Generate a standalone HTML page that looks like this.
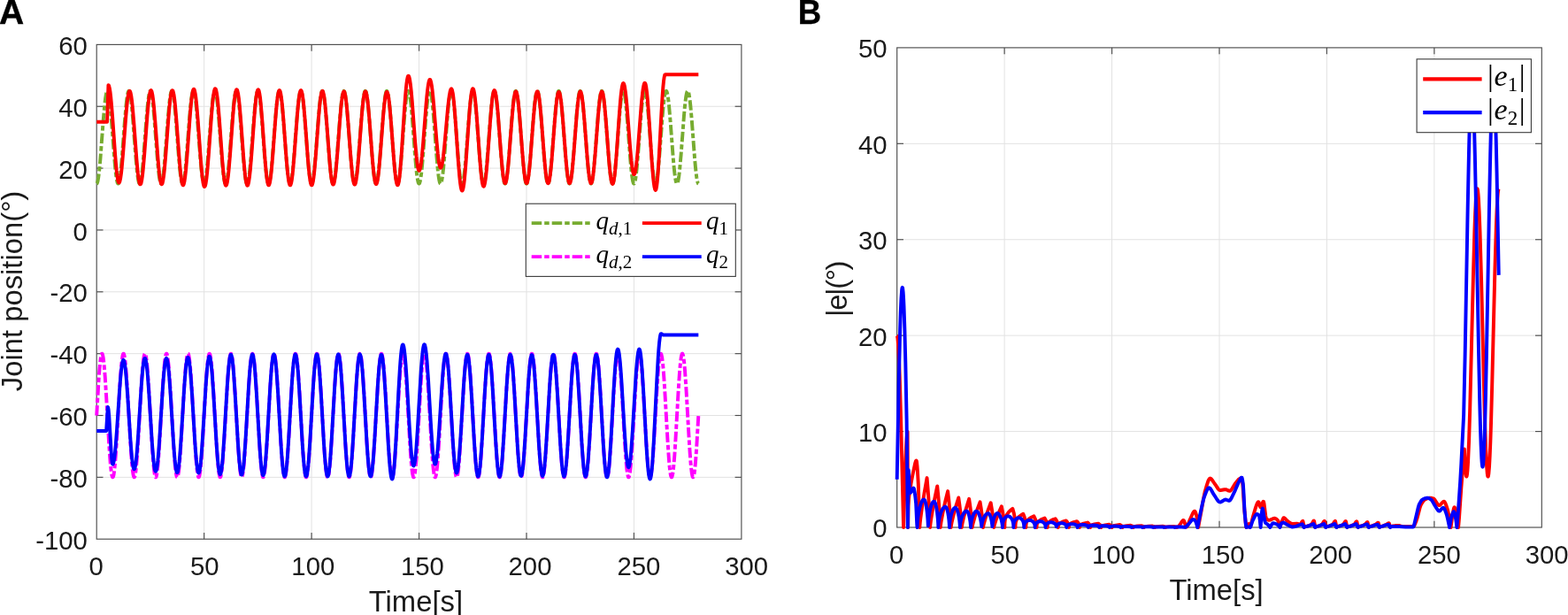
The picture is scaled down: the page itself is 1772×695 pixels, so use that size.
<!DOCTYPE html>
<html lang="en"><head><meta charset="utf-8"><title>Joint position tracking</title>
<style>html,body{margin:0;padding:0;background:#fff;}body{width:1772px;height:695px;overflow:hidden;}svg{display:block;}.tk{font-family:"Liberation Sans",sans-serif;font-size:29.3px;fill:#1a1a1a;}.lb{font-family:"Liberation Sans",sans-serif;font-size:32.8px;fill:#1a1a1a;}.pn{font-family:"Liberation Sans",sans-serif;font-size:39px;font-weight:bold;fill:#000;}.mi{font-family:"Liberation Serif",serif;font-style:italic;fill:#000;}.mr{font-family:"Liberation Serif",serif;font-style:normal;fill:#000;}.cv{fill:none;stroke-linejoin:round;stroke-linecap:butt;}</style></head><body>
<svg width="1772" height="695" viewBox="0 0 1772 695">
<rect x="0" y="0" width="1772" height="695" fill="#ffffff"/>
<g stroke="#e2e2e2" stroke-width="1" fill="none"><line x1="230.65" y1="50.40" x2="230.65" y2="609.20"/><line x1="352.10" y1="50.40" x2="352.10" y2="609.20"/><line x1="473.55" y1="50.40" x2="473.55" y2="609.20"/><line x1="595.00" y1="50.40" x2="595.00" y2="609.20"/><line x1="716.45" y1="50.40" x2="716.45" y2="609.20"/><line x1="109.20" y1="120.25" x2="837.90" y2="120.25"/><line x1="109.20" y1="190.10" x2="837.90" y2="190.10"/><line x1="109.20" y1="259.95" x2="837.90" y2="259.95"/><line x1="109.20" y1="329.80" x2="837.90" y2="329.80"/><line x1="109.20" y1="399.65" x2="837.90" y2="399.65"/><line x1="109.20" y1="469.50" x2="837.90" y2="469.50"/><line x1="109.20" y1="539.35" x2="837.90" y2="539.35"/></g>
<clipPath id="ca"><rect x="109.20" y="50.40" width="728.70" height="558.80"/></clipPath>
<g stroke="#4d4d4d" stroke-width="1.15" fill="none"><line x1="230.65" y1="609.20" x2="230.65" y2="601.90"/><line x1="230.65" y1="50.40" x2="230.65" y2="57.70"/><line x1="352.10" y1="609.20" x2="352.10" y2="601.90"/><line x1="352.10" y1="50.40" x2="352.10" y2="57.70"/><line x1="473.55" y1="609.20" x2="473.55" y2="601.90"/><line x1="473.55" y1="50.40" x2="473.55" y2="57.70"/><line x1="595.00" y1="609.20" x2="595.00" y2="601.90"/><line x1="595.00" y1="50.40" x2="595.00" y2="57.70"/><line x1="716.45" y1="609.20" x2="716.45" y2="601.90"/><line x1="716.45" y1="50.40" x2="716.45" y2="57.70"/><line x1="109.20" y1="120.25" x2="116.50" y2="120.25"/><line x1="837.90" y1="120.25" x2="830.60" y2="120.25"/><line x1="109.20" y1="190.10" x2="116.50" y2="190.10"/><line x1="837.90" y1="190.10" x2="830.60" y2="190.10"/><line x1="109.20" y1="259.95" x2="116.50" y2="259.95"/><line x1="837.90" y1="259.95" x2="830.60" y2="259.95"/><line x1="109.20" y1="329.80" x2="116.50" y2="329.80"/><line x1="837.90" y1="329.80" x2="830.60" y2="329.80"/><line x1="109.20" y1="399.65" x2="116.50" y2="399.65"/><line x1="837.90" y1="399.65" x2="830.60" y2="399.65"/><line x1="109.20" y1="469.50" x2="116.50" y2="469.50"/><line x1="837.90" y1="469.50" x2="830.60" y2="469.50"/><line x1="109.20" y1="539.35" x2="116.50" y2="539.35"/><line x1="837.90" y1="539.35" x2="830.60" y2="539.35"/><rect x="109.20" y="50.40" width="728.70" height="558.80"/></g>
<g class="cv" stroke-width="3.95">
<path d="M109.20,207.56 L109.49,207.41 L109.83,206.87 L110.51,204.58 L111.19,200.76 L111.87,195.54 L112.60,188.57 L113.43,179.25 L116.78,135.28 L118.24,118.84 L119.06,111.66 L119.84,106.71 L120.23,104.96 L120.62,103.72 L121.00,102.99 L121.34,102.79 L121.64,102.94 L121.98,103.48 L122.66,105.77 L123.34,109.59 L124.02,114.81 L124.75,121.78 L125.57,131.10 L128.92,175.07 L130.38,191.51 L131.21,198.69 L131.98,203.64 L132.37,205.39 L132.76,206.63 L133.15,207.36 L133.49,207.56 L133.78,207.41 L134.12,206.87 L134.80,204.58 L135.48,200.76 L136.16,195.54 L136.89,188.57 L137.72,179.25 L141.02,135.89 L142.48,119.31 L143.30,112.03 L144.08,106.97 L144.47,105.15 L144.86,103.84 L145.25,103.05 L145.59,102.79 L145.88,102.89 L146.22,103.38 L146.90,105.56 L147.58,109.27 L148.31,114.81 L149.04,121.78 L149.86,131.10 L153.21,175.07 L154.67,191.51 L155.50,198.69 L156.27,203.64 L156.66,205.39 L157.05,206.63 L157.44,207.36 L157.78,207.56 L158.07,207.41 L158.41,206.87 L159.09,204.58 L159.77,200.76 L160.45,195.54 L161.18,188.57 L162.01,179.25 L165.31,135.89 L166.77,119.31 L167.59,112.03 L168.37,106.97 L168.76,105.15 L169.15,103.84 L169.54,103.05 L169.88,102.79 L170.17,102.89 L170.51,103.38 L171.19,105.56 L171.87,109.27 L172.60,114.81 L173.33,121.78 L174.15,131.10 L177.50,175.07 L178.96,191.51 L179.79,198.69 L180.56,203.64 L180.95,205.39 L181.34,206.63 L181.73,207.36 L182.07,207.56 L182.36,207.41 L182.70,206.87 L183.38,204.58 L184.06,200.76 L184.74,195.54 L185.47,188.57 L186.30,179.25 L189.60,135.89 L191.06,119.31 L191.88,112.03 L192.66,106.97 L193.05,105.15 L193.44,103.84 L193.83,103.05 L194.17,102.79 L194.46,102.89 L194.80,103.38 L195.48,105.56 L196.16,109.27 L196.89,114.81 L197.62,121.78 L198.44,131.10 L201.79,175.07 L203.25,191.51 L204.08,198.69 L204.85,203.64 L205.24,205.39 L205.63,206.63 L206.02,207.36 L206.36,207.56 L206.65,207.41 L206.99,206.87 L207.67,204.58 L208.35,200.76 L209.03,195.54 L209.76,188.57 L210.59,179.25 L213.89,135.89 L215.35,119.31 L216.17,112.03 L216.95,106.97 L217.34,105.15 L217.73,103.84 L218.12,103.05 L218.46,102.79 L218.75,102.89 L219.09,103.38 L219.77,105.56 L220.45,109.27 L221.18,114.81 L221.91,121.78 L222.73,131.10 L226.08,175.07 L227.54,191.51 L228.37,198.69 L229.14,203.64 L229.53,205.39 L229.92,206.63 L230.31,207.36 L230.65,207.56 L230.94,207.41 L231.28,206.87 L231.96,204.58 L232.64,200.76 L233.32,195.54 L234.05,188.57 L234.88,179.25 L238.18,135.89 L239.64,119.31 L240.46,112.03 L241.24,106.97 L241.63,105.15 L242.02,103.84 L242.41,103.05 L242.75,102.79 L243.04,102.89 L243.38,103.38 L244.06,105.56 L244.74,109.27 L245.47,114.81 L246.20,121.78 L247.02,131.10 L250.37,175.07 L251.83,191.51 L252.66,198.69 L253.43,203.64 L253.82,205.39 L254.21,206.63 L254.60,207.36 L254.94,207.56 L255.23,207.41 L255.57,206.87 L256.25,204.58 L256.93,200.76 L257.61,195.54 L258.34,188.57 L259.17,179.25 L262.47,135.89 L263.93,119.31 L264.75,112.03 L265.53,106.97 L265.92,105.15 L266.31,103.84 L266.70,103.05 L267.04,102.79 L267.33,102.89 L267.67,103.38 L268.35,105.56 L269.03,109.27 L269.76,114.81 L270.49,121.78 L271.31,131.10 L274.66,175.07 L276.12,191.51 L276.95,198.69 L277.72,203.64 L278.11,205.39 L278.50,206.63 L278.89,207.36 L279.23,207.56 L279.52,207.41 L279.86,206.87 L280.54,204.58 L281.22,200.76 L281.90,195.54 L282.63,188.57 L283.46,179.25 L286.76,135.89 L288.22,119.31 L289.04,112.03 L289.82,106.97 L290.21,105.15 L290.60,103.84 L290.99,103.05 L291.33,102.79 L291.62,102.89 L291.96,103.38 L292.64,105.56 L293.32,109.27 L294.05,114.81 L294.78,121.78 L295.60,131.10 L298.95,175.07 L300.41,191.51 L301.24,198.69 L302.01,203.64 L302.40,205.39 L302.79,206.63 L303.18,207.36 L303.52,207.56 L303.81,207.41 L304.15,206.87 L304.83,204.58 L305.51,200.76 L306.19,195.54 L306.92,188.57 L307.75,179.25 L311.05,135.89 L312.51,119.31 L313.33,112.03 L314.11,106.97 L314.50,105.15 L314.89,103.84 L315.28,103.05 L315.62,102.79 L315.91,102.89 L316.25,103.38 L316.93,105.56 L317.61,109.27 L318.34,114.81 L319.07,121.78 L319.89,131.10 L323.24,175.07 L324.70,191.51 L325.53,198.69 L326.30,203.64 L326.69,205.39 L327.08,206.63 L327.47,207.36 L327.81,207.56 L328.10,207.41 L328.44,206.87 L329.12,204.58 L329.80,200.76 L330.48,195.54 L331.21,188.57 L332.04,179.25 L335.34,135.89 L336.80,119.31 L337.62,112.03 L338.40,106.97 L338.79,105.15 L339.18,103.84 L339.57,103.05 L339.91,102.79 L340.20,102.89 L340.54,103.38 L341.22,105.56 L341.90,109.27 L342.63,114.81 L343.36,121.78 L344.18,131.10 L347.53,175.07 L348.99,191.51 L349.82,198.69 L350.59,203.64 L350.98,205.39 L351.37,206.63 L351.76,207.36 L352.10,207.56 L352.39,207.41 L352.73,206.87 L353.41,204.58 L354.09,200.76 L354.77,195.54 L355.50,188.57 L356.33,179.25 L359.63,135.89 L361.09,119.31 L361.91,112.03 L362.69,106.97 L363.08,105.15 L363.47,103.84 L363.86,103.05 L364.20,102.79 L364.49,102.89 L364.83,103.38 L365.51,105.56 L366.19,109.27 L366.92,114.81 L367.65,121.78 L368.47,131.10 L371.82,175.07 L373.28,191.51 L374.11,198.69 L374.88,203.64 L375.27,205.39 L375.66,206.63 L376.05,207.36 L376.39,207.56 L376.68,207.41 L377.02,206.87 L377.70,204.58 L378.38,200.76 L379.06,195.54 L379.79,188.57 L380.62,179.25 L383.92,135.89 L385.38,119.31 L386.15,112.41 L386.93,107.23 L387.71,103.98 L388.10,103.12 L388.44,102.80 L388.73,102.85 L389.07,103.29 L389.41,104.12 L389.75,105.35 L390.43,108.95 L391.16,114.39 L391.94,121.78 L392.76,131.10 L396.11,175.07 L397.57,191.51 L398.40,198.69 L399.17,203.64 L399.56,205.39 L399.95,206.63 L400.34,207.36 L400.68,207.56 L400.97,207.41 L401.31,206.87 L401.99,204.58 L402.67,200.76 L403.35,195.54 L404.08,188.57 L404.91,179.25 L408.21,135.89 L409.67,119.31 L410.44,112.41 L411.22,107.23 L412.00,103.98 L412.39,103.12 L412.73,102.80 L413.02,102.85 L413.36,103.29 L413.70,104.12 L414.04,105.35 L414.72,108.95 L415.45,114.39 L416.23,121.78 L417.05,131.10 L420.40,175.07 L421.86,191.51 L422.69,198.69 L423.46,203.64 L423.85,205.39 L424.24,206.63 L424.63,207.36 L424.97,207.56 L425.26,207.41 L425.60,206.87 L426.28,204.58 L426.96,200.76 L427.64,195.54 L428.37,188.57 L429.20,179.25 L432.50,135.89 L433.96,119.31 L434.73,112.41 L435.51,107.23 L436.29,103.98 L436.68,103.12 L437.02,102.80 L437.31,102.85 L437.65,103.29 L437.99,104.12 L438.33,105.35 L439.01,108.95 L439.74,114.39 L440.52,121.78 L441.34,131.10 L444.69,175.07 L446.15,191.51 L446.98,198.69 L447.75,203.64 L448.14,205.39 L448.53,206.63 L448.92,207.36 L449.26,207.56 L449.55,207.41 L449.89,206.87 L450.57,204.58 L451.25,200.76 L451.93,195.54 L452.66,188.57 L453.49,179.25 L456.79,135.89 L458.25,119.31 L459.02,112.41 L459.80,107.23 L460.58,103.98 L460.97,103.12 L461.31,102.80 L461.60,102.85 L461.94,103.29 L462.28,104.12 L462.62,105.35 L463.30,108.95 L464.03,114.39 L464.81,121.78 L465.63,131.10 L468.98,175.07 L470.44,191.51 L471.27,198.69 L472.04,203.64 L472.43,205.39 L472.82,206.63 L473.21,207.36 L473.55,207.56 L473.84,207.41 L474.18,206.87 L474.86,204.58 L475.54,200.76 L476.22,195.54 L476.95,188.57 L477.78,179.25 L481.08,135.89 L482.54,119.31 L483.31,112.41 L484.09,107.23 L484.87,103.98 L485.26,103.12 L485.60,102.80 L485.89,102.85 L486.23,103.29 L486.57,104.12 L486.91,105.35 L487.59,108.95 L488.32,114.39 L489.10,121.78 L489.92,131.10 L493.27,175.07 L494.73,191.51 L495.56,198.69 L496.33,203.64 L496.72,205.39 L497.11,206.63 L497.50,207.36 L497.84,207.56 L498.13,207.41 L498.47,206.87 L499.15,204.58 L499.83,200.76 L500.51,195.54 L501.24,188.57 L502.07,179.25 L505.37,135.89 L506.83,119.31 L507.60,112.41 L508.38,107.23 L509.16,103.98 L509.55,103.12 L509.89,102.80 L510.18,102.85 L510.52,103.29 L510.86,104.12 L511.20,105.35 L511.88,108.95 L512.61,114.39 L513.39,121.78 L514.21,131.10 L517.56,175.07 L519.02,191.51 L519.85,198.69 L520.62,203.64 L521.01,205.39 L521.40,206.63 L521.79,207.36 L522.13,207.56 L522.42,207.41 L522.76,206.87 L523.44,204.58 L524.12,200.76 L524.85,195.12 L525.58,188.06 L526.41,178.66 L529.66,135.89 L531.07,119.80 L531.85,112.79 L532.62,107.50 L533.40,104.12 L533.79,103.20 L534.13,102.82 L534.47,102.85 L534.81,103.29 L535.15,104.12 L535.49,105.35 L536.17,108.95 L536.90,114.39 L537.68,121.78 L538.50,131.10 L541.85,175.07 L543.31,191.51 L544.14,198.69 L544.91,203.64 L545.30,205.39 L545.69,206.63 L546.08,207.36 L546.42,207.56 L546.71,207.41 L547.05,206.87 L547.73,204.58 L548.41,200.76 L549.14,195.12 L549.87,188.06 L550.70,178.66 L553.95,135.89 L555.36,119.80 L556.14,112.79 L556.91,107.50 L557.69,104.12 L558.08,103.20 L558.42,102.82 L558.76,102.85 L559.10,103.29 L559.44,104.12 L559.78,105.35 L560.46,108.95 L561.19,114.39 L561.97,121.78 L562.79,131.10 L566.14,175.07 L567.60,191.51 L568.43,198.69 L569.20,203.64 L569.59,205.39 L569.98,206.63 L570.37,207.36 L570.71,207.56 L571.00,207.41 L571.34,206.87 L572.02,204.58 L572.70,200.76 L573.43,195.12 L574.16,188.06 L574.99,178.66 L578.24,135.89 L579.65,119.80 L580.43,112.79 L581.20,107.50 L581.93,104.27 L582.32,103.29 L582.66,102.85 L583.00,102.82 L583.34,103.20 L583.68,103.98 L584.02,105.15 L584.75,108.95 L585.48,114.39 L586.26,121.78 L587.08,131.10 L590.43,175.07 L591.89,191.51 L592.72,198.69 L593.49,203.64 L593.88,205.39 L594.27,206.63 L594.66,207.36 L595.00,207.56 L595.29,207.41 L595.63,206.87 L596.31,204.58 L596.99,200.76 L597.72,195.12 L598.45,188.06 L599.28,178.66 L602.48,136.50 L603.89,120.28 L604.67,113.18 L605.40,108.06 L606.12,104.60 L606.51,103.48 L606.85,102.94 L607.19,102.79 L607.53,103.05 L607.87,103.72 L608.26,104.96 L608.99,108.65 L609.72,113.98 L610.50,121.28 L611.37,131.10 L614.72,175.07 L616.18,191.51 L617.01,198.69 L617.78,203.64 L618.17,205.39 L618.56,206.63 L618.95,207.36 L619.29,207.56 L619.63,207.36 L619.97,206.75 L620.65,204.35 L621.33,200.43 L622.06,194.69 L623.61,178.07 L626.72,137.12 L628.08,121.28 L628.81,114.39 L629.54,108.95 L630.27,105.15 L630.61,103.98 L630.95,103.20 L631.34,102.80 L631.68,102.89 L632.02,103.38 L632.41,104.43 L633.18,108.06 L633.96,113.58 L634.74,120.78 L635.61,130.52 L639.01,175.07 L640.47,191.51 L641.30,198.69 L642.07,203.64 L642.46,205.39 L642.85,206.63 L643.24,207.36 L643.58,207.56 L643.92,207.36 L644.31,206.63 L644.70,205.39 L645.09,203.64 L645.86,198.69 L646.69,191.51 L648.15,175.07 L651.60,129.94 L652.47,120.28 L653.30,112.79 L654.12,107.23 L654.56,105.15 L654.95,103.84 L655.34,103.05 L655.72,102.79 L656.11,103.05 L656.55,103.98 L657.18,106.47 L657.86,110.59 L658.54,116.10 L659.22,122.81 L660.49,137.74 L663.50,177.48 L665.00,193.81 L665.73,199.76 L666.46,204.12 L667.19,206.75 L667.53,207.36 L667.87,207.56 L668.21,207.36 L668.60,206.63 L668.99,205.39 L669.38,203.64 L670.15,198.69 L670.98,191.51 L672.44,175.07 L675.79,131.10 L676.66,121.28 L677.44,113.98 L678.22,108.35 L678.95,104.78 L679.33,103.60 L679.67,102.99 L680.01,102.79 L680.36,102.99 L680.70,103.60 L681.04,104.60 L681.76,108.06 L682.49,113.18 L683.27,120.28 L684.68,136.50 L687.84,178.07 L689.39,194.69 L690.12,200.43 L690.80,204.35 L691.48,206.75 L691.82,207.36 L692.16,207.56 L692.50,207.36 L692.89,206.63 L693.28,205.39 L693.67,203.64 L694.44,198.69 L695.27,191.51 L696.73,175.07 L700.08,131.10 L700.90,121.78 L701.68,114.39 L702.41,108.95 L703.14,105.15 L703.53,103.84 L703.87,103.12 L704.21,102.80 L704.55,102.89 L704.89,103.38 L705.28,104.43 L706.01,107.77 L706.73,112.79 L707.51,119.80 L708.92,135.89 L712.17,178.66 L713.00,188.06 L713.73,195.12 L714.46,200.76 L715.14,204.58 L715.82,206.87 L716.16,207.41 L716.45,207.56 L716.79,207.36 L717.18,206.63 L717.57,205.39 L717.96,203.64 L718.73,198.69 L719.56,191.51 L721.02,175.07 L724.37,131.10 L725.19,121.78 L725.97,114.39 L726.70,108.95 L727.38,105.35 L727.72,104.12 L728.06,103.29 L728.40,102.85 L728.74,102.82 L729.08,103.20 L729.47,104.12 L730.25,107.50 L731.02,112.79 L731.80,119.80 L733.21,135.89 L736.46,178.66 L737.29,188.06 L738.02,195.12 L738.75,200.76 L739.43,204.58 L740.11,206.87 L740.45,207.41 L740.74,207.56 L741.08,207.36 L741.47,206.63 L741.86,205.39 L742.25,203.64 L743.02,198.69 L743.85,191.51 L745.31,175.07 L748.66,131.10 L749.48,121.78 L750.26,114.39 L750.99,108.95 L751.67,105.35 L752.01,104.12 L752.35,103.29 L752.69,102.85 L752.98,102.80 L753.32,103.12 L753.71,103.98 L754.49,107.23 L755.27,112.41 L756.04,119.31 L757.50,135.89 L760.80,179.25 L761.63,188.57 L762.36,195.54 L763.04,200.76 L763.72,204.58 L764.40,206.87 L764.74,207.41 L765.03,207.56 L765.37,207.36 L765.76,206.63 L766.15,205.39 L766.54,203.64 L767.31,198.69 L768.14,191.51 L769.60,175.07 L772.95,131.10 L773.77,121.78 L774.50,114.81 L775.23,109.27 L775.91,105.56 L776.59,103.38 L776.93,102.89 L777.22,102.79 L777.56,103.05 L777.95,103.84 L778.34,105.15 L778.73,106.97 L779.51,112.03 L780.33,119.31 L781.79,135.89 L785.09,179.25 L785.92,188.57 L786.65,195.54 L787.33,200.76 L788.01,204.58 L788.69,206.87 L789.03,207.41 L789.32,207.56" stroke="#77ac30" stroke-dasharray="11.5 3 5.5 3"/>
<path d="M109.20,469.50 L111.39,432.07 L112.21,420.42 L112.99,411.48 L113.77,404.88 L114.16,402.55 L114.54,400.89 L114.93,399.92 L115.27,399.65 L115.47,399.74 L115.66,400.00 L116.05,401.06 L116.68,404.24 L117.36,409.60 L118.04,416.82 L118.72,425.66 L120.03,446.25 L123.09,500.03 L123.92,512.66 L124.70,522.76 L125.52,531.13 L126.35,536.70 L126.74,538.27 L127.13,539.15 L127.32,539.33 L127.51,539.33 L127.90,538.80 L128.24,537.76 L128.58,536.20 L129.26,531.54 L129.99,524.42 L130.72,515.36 L132.08,494.40 L135.29,438.18 L136.11,425.66 L136.89,415.68 L137.67,407.87 L138.45,402.55 L138.83,400.89 L139.17,400.00 L139.37,399.74 L139.56,399.65 L139.90,399.92 L140.24,400.73 L140.58,402.07 L141.31,406.68 L142.04,413.51 L142.82,422.98 L144.23,444.60 L147.43,500.82 L148.26,513.34 L149.04,523.32 L149.81,531.13 L150.54,536.20 L150.93,537.94 L151.27,538.90 L151.66,539.34 L152.00,539.15 L152.34,538.42 L152.73,536.93 L153.46,532.32 L154.19,525.49 L154.96,516.02 L156.37,494.40 L159.58,438.18 L160.40,425.66 L161.18,415.68 L161.96,407.87 L162.69,402.80 L163.08,401.06 L163.42,400.10 L163.76,399.67 L163.90,399.66 L164.10,399.79 L164.44,400.44 L164.82,401.84 L165.55,406.30 L166.28,412.99 L167.06,422.33 L168.47,443.79 L171.72,500.82 L172.55,513.34 L173.33,523.32 L174.05,530.71 L174.78,535.93 L175.17,537.76 L175.51,538.80 L175.85,539.30 L176.00,539.35 L176.19,539.26 L176.53,538.68 L176.92,537.37 L177.65,533.07 L178.43,526.01 L179.20,516.67 L180.61,495.21 L183.87,438.18 L184.69,425.66 L185.47,415.68 L186.20,408.29 L186.93,403.07 L187.27,401.43 L187.61,400.32 L187.95,399.74 L188.14,399.65 L188.29,399.70 L188.63,400.20 L189.02,401.43 L189.79,405.93 L190.57,412.99 L191.35,422.33 L192.76,443.79 L196.01,500.82 L196.84,513.34 L197.62,523.32 L198.34,530.71 L199.07,535.93 L199.41,537.57 L199.75,538.68 L200.09,539.26 L200.29,539.35 L200.43,539.30 L200.77,538.80 L201.16,537.57 L201.94,533.07 L202.72,526.01 L203.49,516.67 L204.90,495.21 L208.16,438.18 L208.98,425.66 L209.76,415.68 L210.49,408.29 L211.22,403.07 L211.56,401.43 L211.90,400.32 L212.24,399.74 L212.43,399.65 L212.58,399.70 L212.92,400.20 L213.31,401.43 L214.08,405.93 L214.86,412.99 L215.64,422.33 L217.05,443.79 L220.30,500.82 L221.13,513.34 L221.91,523.32 L222.63,530.71 L223.31,535.65 L223.99,538.56 L224.33,539.21 L224.53,539.34 L224.67,539.33 L225.01,538.90 L225.40,537.76 L226.18,533.43 L226.96,526.52 L227.74,517.32 L229.19,495.21 L232.50,437.40 L233.32,424.98 L234.05,415.68 L234.78,408.29 L235.46,403.35 L236.14,400.44 L236.48,399.79 L236.67,399.66 L236.82,399.67 L237.16,400.10 L237.55,401.24 L238.33,405.57 L239.10,412.48 L239.88,421.68 L241.34,443.79 L244.64,501.60 L245.47,514.02 L246.20,523.32 L246.92,530.71 L247.60,535.65 L248.28,538.56 L248.62,539.21 L248.82,539.34 L248.96,539.33 L249.30,538.90 L249.69,537.76 L250.47,533.43 L251.25,526.52 L252.03,517.32 L253.48,495.21 L256.79,437.40 L257.61,424.98 L258.34,415.68 L259.07,408.29 L259.75,403.35 L260.43,400.44 L260.77,399.79 L260.96,399.66 L261.11,399.67 L261.45,400.10 L261.84,401.24 L262.62,405.57 L263.39,412.48 L264.17,421.68 L265.63,443.79 L268.93,501.60 L269.76,514.02 L270.49,523.32 L271.21,530.71 L271.89,535.65 L272.57,538.56 L272.91,539.21 L273.11,539.34 L273.25,539.33 L273.59,538.90 L273.98,537.76 L274.76,533.43 L275.54,526.52 L276.32,517.32 L277.77,495.21 L281.08,437.40 L281.90,424.98 L282.63,415.68 L283.36,408.29 L284.04,403.35 L284.72,400.44 L285.06,399.79 L285.25,399.66 L285.40,399.67 L285.74,400.10 L286.13,401.24 L286.91,405.57 L287.68,412.48 L288.46,421.68 L289.92,443.79 L293.22,501.60 L294.05,514.02 L294.78,523.32 L295.50,530.71 L296.18,535.65 L296.86,538.56 L297.20,539.21 L297.40,539.34 L297.54,539.33 L297.88,538.90 L298.27,537.76 L299.05,533.43 L299.83,526.52 L300.61,517.32 L302.06,495.21 L305.37,437.40 L306.19,424.98 L306.92,415.68 L307.65,408.29 L308.33,403.35 L309.01,400.44 L309.35,399.79 L309.64,399.66 L309.98,400.00 L310.37,401.06 L310.76,402.80 L311.15,405.22 L311.92,411.98 L312.75,421.68 L314.21,443.79 L317.51,501.60 L318.34,514.02 L319.07,523.32 L319.79,530.71 L320.47,535.65 L321.15,538.56 L321.49,539.21 L321.79,539.34 L322.13,539.00 L322.51,537.94 L322.90,536.20 L323.29,533.78 L324.07,527.02 L324.90,517.32 L326.35,495.21 L329.66,437.40 L330.48,424.98 L331.21,415.68 L331.94,408.29 L332.62,403.35 L333.30,400.44 L333.64,399.79 L333.93,399.66 L334.27,400.00 L334.66,401.06 L335.05,402.80 L335.44,405.22 L336.21,411.98 L337.04,421.68 L338.50,443.79 L341.80,501.60 L342.63,514.02 L343.36,523.32 L344.08,530.71 L344.76,535.65 L345.44,538.56 L345.78,539.21 L346.08,539.34 L346.42,539.00 L346.80,537.94 L347.19,536.20 L347.58,533.78 L348.36,527.02 L349.19,517.32 L350.64,495.21 L353.95,437.40 L354.77,424.98 L355.50,415.68 L356.23,408.29 L356.91,403.35 L357.59,400.44 L357.93,399.79 L358.22,399.66 L358.56,400.00 L358.95,401.06 L359.34,402.80 L359.73,405.22 L360.50,411.98 L361.33,421.68 L362.79,443.79 L366.09,501.60 L366.92,514.02 L367.65,523.32 L368.37,530.71 L369.05,535.65 L369.73,538.56 L370.07,539.21 L370.37,539.34 L370.71,539.00 L371.09,537.94 L371.48,536.20 L371.87,533.78 L372.65,527.02 L373.48,517.32 L374.93,495.21 L378.24,437.40 L379.06,424.98 L379.79,415.68 L380.52,408.29 L381.20,403.35 L381.88,400.44 L382.22,399.79 L382.51,399.66 L382.85,400.00 L383.24,401.06 L383.63,402.80 L384.02,405.22 L384.79,411.98 L385.62,421.68 L387.08,443.79 L390.38,501.60 L391.21,514.02 L391.94,523.32 L392.66,530.71 L393.34,535.65 L394.02,538.56 L394.36,539.21 L394.66,539.34 L395.00,539.00 L395.38,537.94 L395.77,536.20 L396.16,533.78 L396.94,527.02 L397.77,517.32 L399.22,495.21 L402.53,437.40 L403.35,424.98 L404.08,415.68 L404.81,408.29 L405.49,403.35 L406.17,400.44 L406.51,399.79 L406.80,399.66 L407.14,400.00 L407.53,401.06 L407.92,402.80 L408.31,405.22 L409.08,411.98 L409.91,421.68 L411.37,443.79 L414.67,501.60 L415.50,514.02 L416.23,523.32 L416.95,530.71 L417.63,535.65 L418.31,538.56 L418.65,539.21 L418.95,539.34 L419.29,539.00 L419.67,537.94 L420.06,536.20 L420.45,533.78 L421.23,527.02 L422.06,517.32 L423.51,495.21 L426.82,437.40 L427.64,424.98 L428.37,415.68 L429.10,408.29 L429.78,403.35 L430.46,400.44 L430.80,399.79 L431.09,399.66 L431.43,400.00 L431.82,401.06 L432.21,402.80 L432.60,405.22 L433.37,411.98 L434.20,421.68 L435.66,443.79 L438.96,501.60 L439.79,514.02 L440.52,523.32 L441.24,530.71 L441.92,535.65 L442.60,538.56 L442.94,539.21 L443.24,539.34 L443.58,539.00 L443.96,537.94 L444.35,536.20 L444.74,533.78 L445.52,527.02 L446.35,517.32 L447.80,495.21 L451.11,437.40 L451.93,424.98 L452.66,415.68 L453.39,408.29 L454.07,403.35 L454.75,400.44 L455.09,399.79 L455.38,399.66 L455.72,400.00 L456.11,401.06 L456.50,402.80 L456.89,405.22 L457.66,411.98 L458.49,421.68 L459.95,443.79 L463.25,501.60 L464.08,514.02 L464.81,523.32 L465.53,530.71 L466.21,535.65 L466.89,538.56 L467.23,539.21 L467.53,539.34 L467.87,539.00 L468.25,537.94 L468.64,536.20 L469.03,533.78 L469.81,527.02 L470.64,517.32 L472.09,495.21 L475.40,437.40 L476.22,424.98 L476.95,415.68 L477.68,408.29 L478.36,403.35 L479.04,400.44 L479.38,399.79 L479.67,399.66 L480.01,400.00 L480.40,401.06 L480.79,402.80 L481.18,405.22 L481.95,411.98 L482.78,421.68 L484.24,443.79 L487.54,501.60 L488.37,514.02 L489.10,523.32 L489.82,530.71 L490.50,535.65 L491.18,538.56 L491.52,539.21 L491.82,539.34 L492.16,539.00 L492.54,537.94 L492.93,536.20 L493.32,533.78 L494.10,527.02 L494.93,517.32 L496.38,495.21 L499.69,437.40 L500.51,424.98 L501.24,415.68 L501.97,408.29 L502.65,403.35 L503.33,400.44 L503.67,399.79 L503.96,399.66 L504.30,400.00 L504.69,401.06 L505.08,402.80 L505.47,405.22 L506.24,411.98 L507.07,421.68 L508.53,443.79 L511.83,501.60 L512.66,514.02 L513.39,523.32 L514.11,530.71 L514.79,535.65 L515.47,538.56 L515.81,539.21 L516.11,539.34 L516.45,539.00 L516.83,537.94 L517.22,536.20 L517.61,533.78 L518.39,527.02 L519.22,517.32 L520.67,495.21 L523.98,437.40 L524.80,424.98 L525.53,415.68 L526.26,408.29 L526.94,403.35 L527.62,400.44 L527.96,399.79 L528.25,399.66 L528.59,400.00 L528.98,401.06 L529.37,402.80 L529.76,405.22 L530.53,411.98 L531.36,421.68 L532.82,443.79 L536.12,501.60 L536.95,514.02 L537.68,523.32 L538.40,530.71 L539.08,535.65 L539.76,538.56 L540.10,539.21 L540.40,539.34 L540.74,539.00 L541.12,537.94 L541.51,536.20 L541.90,533.78 L542.68,527.02 L543.51,517.32 L544.96,495.21 L548.27,437.40 L549.09,424.98 L549.82,415.68 L550.55,408.29 L551.23,403.35 L551.91,400.44 L552.25,399.79 L552.54,399.66 L552.88,400.00 L553.27,401.06 L553.66,402.80 L554.05,405.22 L554.82,411.98 L555.65,421.68 L557.11,443.79 L560.41,501.60 L561.24,514.02 L561.97,523.32 L562.69,530.71 L563.37,535.65 L564.05,538.56 L564.39,539.21 L564.69,539.34 L565.03,539.00 L565.41,537.94 L565.80,536.20 L566.19,533.78 L566.97,527.02 L567.80,517.32 L569.25,495.21 L572.56,437.40 L573.38,424.98 L574.11,415.68 L574.84,408.29 L575.52,403.35 L576.20,400.44 L576.54,399.79 L576.83,399.66 L577.17,400.00 L577.56,401.06 L577.95,402.80 L578.34,405.22 L579.11,411.98 L579.94,421.68 L581.40,443.79 L584.70,501.60 L585.53,514.02 L586.26,523.32 L586.98,530.71 L587.66,535.65 L588.34,538.56 L588.68,539.21 L588.98,539.34 L589.32,539.00 L589.70,537.94 L590.09,536.20 L590.48,533.78 L591.26,527.02 L592.09,517.32 L593.54,495.21 L596.85,437.40 L597.67,424.98 L598.40,415.68 L599.13,408.29 L599.81,403.35 L600.49,400.44 L600.83,399.79 L601.12,399.66 L601.46,400.00 L601.85,401.06 L602.24,402.80 L602.63,405.22 L603.40,411.98 L604.23,421.68 L605.69,443.79 L608.99,501.60 L609.82,514.02 L610.55,523.32 L611.27,530.71 L611.95,535.65 L612.63,538.56 L612.97,539.21 L613.27,539.34 L613.61,539.00 L613.99,537.94 L614.38,536.20 L614.77,533.78 L615.55,527.02 L616.38,517.32 L617.83,495.21 L621.14,437.40 L621.96,424.98 L622.69,415.68 L623.42,408.29 L624.10,403.35 L624.78,400.44 L625.12,399.79 L625.41,399.66 L625.75,400.00 L626.14,401.06 L626.53,402.80 L626.92,405.22 L627.69,411.98 L628.52,421.68 L629.98,443.79 L633.28,501.60 L634.11,514.02 L634.84,523.32 L635.56,530.71 L636.24,535.65 L636.92,538.56 L637.26,539.21 L637.56,539.34 L637.90,539.00 L638.28,537.94 L638.67,536.20 L639.06,533.78 L639.84,527.02 L640.67,517.32 L642.12,495.21 L645.43,437.40 L646.25,424.98 L646.98,415.68 L647.71,408.29 L648.39,403.35 L649.07,400.44 L649.41,399.79 L649.70,399.66 L650.04,400.00 L650.43,401.06 L650.82,402.80 L651.21,405.22 L651.98,411.98 L652.81,421.68 L654.27,443.79 L657.57,501.60 L658.40,514.02 L659.13,523.32 L659.85,530.71 L660.53,535.65 L661.21,538.56 L661.55,539.21 L661.85,539.34 L662.19,539.00 L662.57,537.94 L662.96,536.20 L663.35,533.78 L664.13,527.02 L664.96,517.32 L666.41,495.21 L669.72,437.40 L670.54,424.98 L671.27,415.68 L672.00,408.29 L672.68,403.35 L673.36,400.44 L673.70,399.79 L673.99,399.66 L674.33,400.00 L674.72,401.06 L675.11,402.80 L675.50,405.22 L676.27,411.98 L677.10,421.68 L678.56,443.79 L681.86,501.60 L682.69,514.02 L683.42,523.32 L684.14,530.71 L684.82,535.65 L685.50,538.56 L685.84,539.21 L686.14,539.34 L686.48,539.00 L686.86,537.94 L687.25,536.20 L687.64,533.78 L688.42,527.02 L689.25,517.32 L690.70,495.21 L694.01,437.40 L694.83,424.98 L695.56,415.68 L696.29,408.29 L696.97,403.35 L697.65,400.44 L697.99,399.79 L698.28,399.66 L698.62,400.00 L699.01,401.06 L699.40,402.80 L699.79,405.22 L700.56,411.98 L701.39,421.68 L702.85,443.79 L706.15,501.60 L706.98,514.02 L707.71,523.32 L708.43,530.71 L709.11,535.65 L709.79,538.56 L710.13,539.21 L710.43,539.34 L710.77,539.00 L711.15,537.94 L711.54,536.20 L711.93,533.78 L712.71,527.02 L713.54,517.32 L714.99,495.21 L718.30,437.40 L719.12,424.98 L719.85,415.68 L720.53,408.72 L721.21,403.63 L721.89,400.58 L722.23,399.85 L722.52,399.65 L722.81,399.85 L723.15,400.58 L723.83,403.63 L724.51,408.72 L725.19,415.68 L725.92,424.98 L726.75,437.40 L730.10,496.03 L731.56,517.95 L732.38,527.52 L733.16,534.12 L733.55,536.45 L733.94,538.11 L734.33,539.08 L734.67,539.35 L734.96,539.15 L735.30,538.42 L735.98,535.37 L736.66,530.28 L737.34,523.32 L738.07,514.02 L738.89,501.60 L742.25,442.97 L743.70,421.05 L744.53,411.48 L745.31,404.88 L745.70,402.55 L746.08,400.89 L746.47,399.92 L746.81,399.65 L747.10,399.85 L747.44,400.58 L748.12,403.63 L748.80,408.72 L749.48,415.68 L750.21,424.98 L751.04,437.40 L754.39,496.03 L755.85,517.95 L756.67,527.52 L757.45,534.12 L757.84,536.45 L758.23,538.11 L758.62,539.08 L758.96,539.35 L759.25,539.15 L759.59,538.42 L760.27,535.37 L760.95,530.28 L761.63,523.32 L762.36,514.02 L763.18,501.60 L766.54,442.97 L767.99,421.05 L768.82,411.48 L769.60,404.88 L769.99,402.55 L770.37,400.89 L770.76,399.92 L771.10,399.65 L771.44,399.92 L771.78,400.73 L772.12,402.07 L772.51,404.24 L773.24,410.06 L773.97,417.98 L775.47,439.76 L778.49,492.75 L779.75,512.66 L780.43,521.60 L781.11,528.94 L781.79,534.44 L782.42,537.76 L782.81,538.90 L783.20,539.34 L783.54,539.15 L783.93,538.27 L784.32,536.70 L784.70,534.44 L785.48,528.00 L786.26,519.20 L787.13,506.93 L789.32,469.50" stroke="#ff00ff" stroke-dasharray="11.5 3 5.5 3"/>
<path d="M109.20,137.71 L121.10,137.71 L122.46,96.15 L122.80,96.37 L123.19,97.16 L123.82,99.62 L124.50,103.84 L125.18,109.56 L125.86,116.59 L127.17,133.03 L130.19,175.29 L131.01,185.38 L131.74,192.99 L132.52,199.44 L133.30,203.90 L133.68,205.33 L134.02,206.13 L134.36,206.49 L134.56,206.50 L134.75,206.38 L135.09,205.85 L135.43,204.91 L136.16,201.59 L136.89,196.57 L137.67,189.55 L139.08,173.43 L142.33,130.76 L143.16,121.46 L143.93,114.12 L144.71,108.43 L145.44,104.82 L145.83,103.62 L146.17,103.00 L146.56,102.79 L146.90,103.05 L147.24,103.72 L147.58,104.80 L148.31,108.44 L149.04,113.77 L149.76,120.61 L151.12,136.53 L154.33,179.34 L155.16,188.87 L155.89,196.02 L156.61,201.72 L157.34,205.76 L157.73,207.18 L158.07,207.99 L158.41,208.39 L158.75,208.38 L159.09,207.95 L159.48,206.95 L160.21,203.67 L160.99,198.26 L161.76,191.10 L163.17,174.63 L166.43,130.97 L167.25,121.44 L168.03,113.88 L168.76,108.33 L169.49,104.46 L169.88,103.13 L170.22,102.41 L170.56,102.10 L170.90,102.21 L171.24,102.73 L171.63,103.83 L172.35,107.28 L173.08,112.46 L173.86,119.65 L175.27,136.14 L178.48,179.08 L179.30,188.63 L180.03,195.80 L180.76,201.51 L181.49,205.56 L181.83,206.84 L182.17,207.72 L182.51,208.18 L182.85,208.23 L183.19,207.87 L183.58,206.95 L184.30,203.82 L185.08,198.56 L185.86,191.55 L187.32,174.67 L190.57,131.15 L191.40,121.62 L192.17,114.05 L192.90,108.47 L193.63,104.55 L193.97,103.34 L194.31,102.53 L194.65,102.13 L194.99,102.15 L195.33,102.58 L195.72,103.59 L196.45,106.88 L197.23,112.31 L198.00,119.51 L199.41,136.05 L202.67,179.97 L203.49,189.59 L204.22,196.80 L204.95,202.54 L205.63,206.39 L206.31,208.67 L206.65,209.19 L206.99,209.30 L207.33,208.98 L207.72,208.11 L208.50,204.75 L209.27,199.38 L210.05,192.21 L211.51,174.97 L214.76,130.50 L215.59,120.75 L216.37,113.00 L217.10,107.28 L217.82,103.25 L218.16,102.00 L218.50,101.16 L218.85,100.74 L219.19,100.75 L219.53,101.18 L219.91,102.19 L220.64,105.55 L221.42,111.10 L222.20,118.46 L223.61,135.43 L226.86,180.60 L227.69,190.53 L228.42,197.98 L229.14,203.93 L229.82,207.94 L230.50,210.34 L230.84,210.91 L231.18,211.05 L231.52,210.76 L231.91,209.90 L232.30,208.49 L232.69,206.55 L233.47,201.14 L234.24,193.88 L235.70,176.38 L239.01,130.38 L239.83,120.46 L240.61,112.59 L241.34,106.79 L242.02,102.94 L242.36,101.62 L242.70,100.72 L243.04,100.25 L243.38,100.20 L243.72,100.58 L244.11,101.54 L244.88,105.05 L245.66,110.58 L246.44,117.91 L247.85,134.75 L251.10,179.53 L251.93,189.36 L252.71,197.18 L253.43,202.96 L254.11,206.82 L254.79,209.06 L255.13,209.56 L255.43,209.65 L255.77,209.36 L256.15,208.52 L256.54,207.14 L256.93,205.24 L257.71,199.94 L258.49,192.85 L259.94,175.74 L263.25,130.78 L264.07,121.09 L264.85,113.39 L265.58,107.71 L266.26,103.94 L266.60,102.65 L266.94,101.76 L267.28,101.29 L267.62,101.25 L267.96,101.62 L268.35,102.56 L269.13,106.02 L269.90,111.48 L270.68,118.72 L272.09,135.38 L275.34,179.71 L276.17,189.45 L276.95,197.21 L277.68,202.95 L278.36,206.79 L279.04,209.05 L279.38,209.55 L279.67,209.65 L280.01,209.38 L280.40,208.55 L280.78,207.19 L281.17,205.31 L281.95,200.04 L282.78,192.49 L284.23,175.29 L287.49,130.97 L288.31,121.26 L289.09,113.53 L289.82,107.82 L290.50,104.01 L291.18,101.80 L291.52,101.31 L291.86,101.24 L292.20,101.60 L292.59,102.55 L293.32,105.81 L294.10,111.29 L294.87,118.62 L296.28,135.57 L299.44,179.30 L300.27,189.21 L300.99,196.63 L301.67,202.17 L302.35,206.21 L303.03,208.62 L303.37,209.17 L303.67,209.31 L304.01,209.07 L304.39,208.30 L304.78,206.99 L305.17,205.16 L305.95,200.04 L306.77,192.64 L308.23,175.75 L311.54,131.36 L312.36,121.79 L313.14,114.18 L313.87,108.56 L314.55,104.82 L314.89,103.53 L315.23,102.65 L315.57,102.17 L315.86,102.10 L316.20,102.39 L316.59,103.24 L317.37,106.50 L318.14,111.74 L318.92,118.76 L320.38,135.65 L323.68,180.04 L324.51,189.61 L325.24,196.79 L325.96,202.51 L326.64,206.36 L327.32,208.65 L327.66,209.18 L327.96,209.31 L328.30,209.07 L328.68,208.30 L329.07,206.99 L329.46,205.16 L330.24,200.04 L331.06,192.64 L332.52,175.75 L335.83,131.36 L336.65,121.79 L337.43,114.18 L338.16,108.56 L338.84,104.82 L339.18,103.53 L339.52,102.65 L339.86,102.17 L340.15,102.10 L340.49,102.39 L340.88,103.24 L341.66,106.50 L342.43,111.74 L343.21,118.76 L344.67,135.65 L347.97,180.04 L348.80,189.61 L349.53,196.79 L350.25,202.51 L350.93,206.36 L351.61,208.65 L351.95,209.18 L352.25,209.31 L352.59,209.07 L352.97,208.30 L353.36,207.00 L353.75,205.19 L354.53,200.10 L355.35,192.75 L356.81,175.97 L360.12,131.87 L360.94,122.36 L361.72,114.80 L362.45,109.22 L363.13,105.50 L363.47,104.22 L363.81,103.34 L364.15,102.87 L364.44,102.80 L364.78,103.09 L365.17,103.92 L365.95,107.14 L366.72,112.31 L367.50,119.24 L368.96,135.91 L372.26,179.72 L373.09,189.17 L373.82,196.26 L374.54,201.90 L375.22,205.70 L375.90,207.96 L376.24,208.48 L376.54,208.61 L376.88,208.38 L377.26,207.61 L377.65,206.33 L378.04,204.54 L378.82,199.51 L379.64,192.24 L381.10,175.65 L384.41,132.06 L385.23,122.66 L386.01,115.18 L386.74,109.67 L387.42,105.99 L387.76,104.73 L388.10,103.86 L388.44,103.40 L388.73,103.32 L389.07,103.61 L389.46,104.44 L390.24,107.64 L391.01,112.79 L391.79,119.68 L393.25,136.27 L396.55,179.86 L397.38,189.27 L398.11,196.32 L398.83,201.94 L399.51,205.72 L400.19,207.96 L400.53,208.48 L400.83,208.61 L401.17,208.38 L401.55,207.61 L401.94,206.33 L402.33,204.54 L403.11,199.51 L403.93,192.24 L405.39,175.65 L408.70,132.06 L409.52,122.66 L410.30,115.18 L411.03,109.67 L411.71,105.99 L412.05,104.73 L412.39,103.86 L412.73,103.40 L413.02,103.32 L413.36,103.61 L413.75,104.43 L414.53,107.62 L415.30,112.74 L416.08,119.60 L417.54,136.11 L420.84,179.48 L421.67,188.84 L422.40,195.85 L423.12,201.45 L423.80,205.21 L424.48,207.44 L424.82,207.96 L425.12,208.09 L425.46,207.86 L425.84,207.10 L426.23,205.83 L426.62,204.06 L427.40,199.07 L428.22,191.88 L429.68,175.45 L432.99,132.30 L433.81,122.99 L434.59,115.59 L435.32,110.13 L436.00,106.49 L436.34,105.24 L436.68,104.38 L437.02,103.92 L437.31,103.84 L437.65,104.14 L438.04,104.96 L438.82,108.17 L439.59,113.33 L440.37,120.23 L441.83,136.85 L445.13,180.51 L445.96,189.93 L446.69,196.99 L447.41,202.63 L448.09,206.41 L448.77,208.66 L449.11,209.18 L449.41,209.31 L449.75,209.03 L450.09,208.29 L450.81,205.11 L451.54,199.89 L452.27,192.82 L453.78,173.46 L456.74,127.28 L458.05,108.99 L458.73,101.12 L459.41,94.68 L460.09,89.87 L460.72,87.00 L461.11,86.03 L461.50,85.68 L461.89,85.91 L462.33,86.82 L462.72,88.20 L463.15,90.35 L463.98,96.11 L464.81,103.83 L465.68,113.75 L469.08,159.33 L470.54,176.23 L471.36,183.62 L472.14,188.75 L472.53,190.57 L472.92,191.88 L473.31,192.66 L473.65,192.89 L474.04,192.67 L474.42,191.92 L474.81,190.66 L475.20,188.91 L475.98,183.99 L476.80,176.88 L478.26,160.64 L481.57,117.99 L482.39,108.79 L483.17,101.48 L483.90,96.08 L484.58,92.49 L484.92,91.25 L485.26,90.40 L485.60,89.95 L485.89,89.87 L486.18,90.09 L486.52,90.69 L487.15,92.82 L487.83,96.50 L488.51,101.53 L489.24,108.22 L490.07,117.13 L493.32,157.90 L494.78,173.77 L495.56,180.40 L496.33,185.39 L497.11,188.55 L497.50,189.40 L497.84,189.73 L498.23,189.64 L498.62,189.11 L499.01,188.13 L499.39,186.71 L500.17,182.64 L501.00,176.66 L502.50,162.28 L506.00,123.26 L506.92,114.65 L507.75,108.39 L508.62,103.59 L509.06,101.96 L509.45,100.98 L509.89,100.41 L510.08,100.34 L510.28,100.40 L510.62,100.84 L511.01,101.89 L511.64,104.80 L512.27,109.12 L512.95,115.23 L513.63,122.65 L514.89,139.13 L517.85,182.18 L519.36,200.22 L520.14,207.20 L520.87,211.94 L521.26,213.69 L521.60,214.77 L521.94,215.40 L522.28,215.59 L522.57,215.40 L522.91,214.77 L523.59,212.18 L524.27,207.92 L525.00,201.65 L525.72,193.82 L526.55,183.43 L529.76,136.97 L531.17,119.17 L531.94,111.40 L532.72,105.51 L533.45,101.89 L533.84,100.77 L534.18,100.26 L534.52,100.20 L534.86,100.56 L535.20,101.35 L535.54,102.56 L536.27,106.51 L537.00,112.20 L537.77,119.94 L538.60,129.73 L541.95,176.11 L543.41,193.52 L544.23,201.15 L545.01,206.43 L545.40,208.31 L545.79,209.66 L546.18,210.46 L546.52,210.70 L546.86,210.52 L547.20,209.93 L547.88,207.50 L548.56,203.49 L549.29,197.58 L550.01,190.22 L550.84,180.44 L554.05,136.72 L555.46,119.97 L556.23,112.66 L556.96,107.40 L557.69,103.88 L558.08,102.76 L558.42,102.22 L558.76,102.10 L559.10,102.39 L559.44,103.08 L559.83,104.36 L560.56,108.12 L561.29,113.53 L562.06,120.89 L562.89,130.20 L566.24,174.31 L567.70,190.87 L568.52,198.12 L569.30,203.15 L569.69,204.94 L570.08,206.22 L570.47,206.98 L570.81,207.21 L571.10,207.09 L571.44,206.57 L572.12,204.36 L572.80,200.63 L573.48,195.50 L574.26,188.12 L575.08,178.85 L578.39,135.83 L579.84,119.46 L580.67,112.29 L581.45,107.33 L581.83,105.56 L582.22,104.29 L582.61,103.54 L582.95,103.31 L583.29,103.48 L583.63,104.06 L584.31,106.38 L585.04,110.55 L585.77,116.29 L587.32,132.85 L590.43,173.47 L591.79,189.13 L592.52,195.91 L593.25,201.25 L593.93,204.77 L594.27,205.96 L594.61,206.76 L595.00,207.19 L595.34,207.13 L595.68,206.67 L596.07,205.66 L596.85,202.13 L597.62,196.71 L598.40,189.62 L599.28,180.00 L602.68,135.83 L604.18,118.99 L605.01,111.93 L605.78,107.08 L606.17,105.37 L606.56,104.17 L606.95,103.48 L607.29,103.31 L607.63,103.54 L607.97,104.17 L608.70,106.84 L609.43,111.22 L610.16,117.17 L611.66,133.44 L614.63,172.24 L615.94,187.62 L616.62,194.23 L617.30,199.64 L617.98,203.68 L618.61,206.10 L619.00,206.92 L619.39,207.21 L619.78,206.98 L620.21,206.11 L620.60,204.78 L621.04,202.70 L621.86,197.15 L622.69,189.71 L623.57,180.14 L626.97,136.19 L628.47,119.44 L629.30,112.41 L630.07,107.59 L630.46,105.89 L630.85,104.69 L631.24,104.01 L631.58,103.84 L631.92,104.06 L632.31,104.81 L632.70,106.07 L633.09,107.83 L633.86,112.77 L634.69,119.90 L636.15,136.19 L639.50,179.57 L640.33,188.72 L641.10,195.97 L641.88,201.58 L642.61,205.16 L643.00,206.36 L643.34,206.98 L643.73,207.21 L644.07,206.98 L644.41,206.35 L644.75,205.33 L645.47,201.84 L646.20,196.71 L646.98,189.62 L648.39,173.47 L651.55,132.26 L652.37,122.91 L653.10,115.86 L653.83,110.22 L654.51,106.38 L655.19,104.06 L655.53,103.48 L655.87,103.31 L656.21,103.54 L656.60,104.29 L656.99,105.56 L657.38,107.33 L658.15,112.29 L658.98,119.46 L660.44,135.83 L663.74,178.85 L664.57,188.12 L665.34,195.50 L666.02,200.63 L666.70,204.36 L667.38,206.57 L667.72,207.09 L668.02,207.21 L668.36,206.98 L668.74,206.23 L669.13,204.96 L669.52,203.20 L670.30,198.23 L671.12,191.06 L672.58,174.69 L675.89,131.68 L676.71,122.40 L677.49,115.03 L678.17,109.90 L678.85,106.17 L679.53,103.95 L679.87,103.44 L680.16,103.31 L680.50,103.54 L680.89,104.30 L681.28,105.58 L681.67,107.36 L682.44,112.36 L683.27,119.57 L684.73,136.05 L688.03,179.36 L688.86,188.70 L689.63,196.12 L690.31,201.28 L690.99,205.04 L691.67,207.27 L692.01,207.79 L692.31,207.91 L692.65,207.66 L692.99,206.97 L693.71,204.04 L694.44,199.24 L695.17,192.73 L696.68,174.90 L699.64,132.37 L700.95,115.53 L701.63,108.28 L702.31,102.35 L702.94,98.19 L703.58,95.43 L703.96,94.46 L704.35,94.07 L704.55,94.08 L704.74,94.23 L705.18,95.03 L705.57,96.29 L706.01,98.29 L706.83,103.71 L707.66,111.02 L708.58,121.04 L711.98,164.83 L713.49,181.54 L714.31,188.54 L715.09,193.35 L715.48,195.04 L715.87,196.23 L716.26,196.91 L716.60,197.08 L716.94,196.86 L717.32,196.11 L717.71,194.85 L718.10,193.09 L718.88,188.15 L719.70,181.02 L721.16,164.73 L724.47,121.93 L725.29,112.70 L726.07,105.36 L726.75,100.26 L727.43,96.55 L728.11,94.34 L728.45,93.83 L728.74,93.71 L729.08,93.98 L729.47,94.85 L729.86,96.33 L730.25,98.39 L731.02,104.19 L731.85,112.55 L733.31,131.64 L736.61,181.81 L737.44,192.63 L738.21,201.23 L738.89,207.22 L739.57,211.57 L740.25,214.15 L740.59,214.75 L740.89,214.90 L741.18,214.62 L741.47,213.88 L742.10,210.71 L742.73,205.48 L743.36,198.38 L744.72,177.89 L747.49,126.79 L748.66,107.74 L749.34,98.71 L749.97,92.09 L750.60,87.40 L751.18,84.93 L751.43,84.44 L751.67,84.28 L789.32,84.28" stroke="#ff0000"/>
<path d="M109.20,486.96 L120.13,486.96 L121.83,460.07 L122.03,460.27 L122.32,461.30 L122.66,463.58 L123.34,471.25 L125.43,507.22 L126.25,518.62 L126.69,522.45 L127.08,524.31 L127.27,524.65 L127.47,524.65 L127.71,524.42 L128.00,523.84 L128.68,521.20 L129.36,516.85 L130.04,510.92 L130.77,503.03 L132.08,485.71 L135.14,440.32 L135.97,429.62 L136.74,421.05 L137.52,414.28 L138.30,409.58 L138.69,408.07 L139.03,407.23 L139.42,406.82 L139.76,406.96 L140.10,407.57 L140.49,408.85 L141.21,412.85 L141.94,418.83 L142.72,427.14 L144.13,446.18 L147.38,496.56 L148.21,507.59 L148.99,516.35 L149.76,523.18 L150.54,527.82 L150.93,529.25 L151.27,530.00 L151.46,530.21 L151.66,530.27 L152.00,529.99 L152.34,529.23 L152.68,528.00 L153.41,523.79 L154.14,517.59 L154.91,509.04 L156.32,489.55 L159.48,439.82 L160.31,428.54 L161.08,419.53 L161.81,412.83 L162.54,408.08 L162.93,406.40 L163.27,405.43 L163.61,404.95 L163.80,404.89 L163.95,404.95 L164.29,405.44 L164.68,406.61 L165.41,410.47 L166.18,416.86 L166.96,425.34 L168.42,445.65 L171.67,497.82 L172.50,509.23 L173.28,518.30 L174.05,525.38 L174.78,529.95 L175.17,531.51 L175.51,532.35 L175.85,532.70 L176.19,532.56 L176.53,531.93 L176.92,530.61 L177.65,526.46 L178.38,520.27 L179.16,511.67 L180.56,491.96 L183.82,439.79 L184.64,428.37 L185.37,419.81 L186.10,412.99 L186.83,408.14 L187.17,406.61 L187.51,405.55 L187.85,404.99 L188.19,404.92 L188.53,405.35 L188.92,406.44 L189.70,410.53 L190.47,416.99 L191.25,425.57 L192.71,446.09 L195.96,498.83 L196.79,510.37 L197.57,519.54 L198.30,526.31 L199.02,531.07 L199.36,532.56 L199.70,533.55 L200.04,534.05 L200.24,534.11 L200.38,534.05 L200.72,533.55 L201.11,532.36 L201.84,528.42 L202.62,521.91 L203.40,513.26 L204.85,492.57 L208.11,439.41 L208.93,427.77 L209.66,419.05 L210.39,412.10 L211.07,407.42 L211.75,404.64 L212.09,404.00 L212.43,403.85 L212.77,404.21 L213.16,405.24 L213.55,406.91 L213.94,409.21 L214.72,415.60 L215.49,424.14 L216.95,444.73 L220.25,498.80 L221.08,510.46 L221.86,519.73 L222.59,526.58 L223.31,531.39 L223.65,532.89 L223.99,533.89 L224.33,534.40 L224.53,534.46 L224.67,534.40 L225.01,533.89 L225.40,532.69 L226.13,528.71 L226.91,522.13 L227.69,513.39 L229.14,492.48 L232.40,438.74 L233.22,426.98 L233.95,418.17 L234.68,411.14 L235.36,406.41 L236.04,403.60 L236.38,402.95 L236.72,402.81 L237.06,403.17 L237.45,404.22 L237.84,405.93 L238.23,408.28 L239.01,414.80 L239.78,423.53 L241.24,444.55 L244.54,499.78 L245.37,511.70 L246.15,521.16 L246.88,528.16 L247.56,532.81 L247.90,534.41 L248.24,535.51 L248.58,536.10 L248.77,536.21 L248.92,536.17 L249.26,535.72 L249.64,534.58 L250.42,530.29 L251.20,523.52 L251.98,514.52 L253.43,493.00 L256.69,437.69 L257.51,425.59 L258.24,416.52 L258.97,409.28 L259.65,404.42 L260.33,401.53 L260.67,400.86 L261.01,400.71 L261.35,401.08 L261.74,402.15 L262.13,403.89 L262.52,406.28 L263.30,412.93 L264.07,421.82 L265.53,443.22 L268.83,499.47 L269.66,511.60 L270.44,521.24 L271.17,528.36 L271.85,533.10 L272.19,534.73 L272.53,535.85 L272.87,536.45 L273.06,536.55 L273.21,536.52 L273.55,536.07 L273.93,534.92 L274.71,530.61 L275.49,523.80 L276.27,514.76 L277.72,493.12 L280.98,437.53 L281.80,425.37 L282.53,416.25 L283.26,408.98 L283.94,404.09 L284.62,401.19 L284.96,400.51 L285.30,400.36 L285.64,400.74 L286.03,401.81 L286.42,403.57 L286.81,405.98 L287.59,412.67 L288.36,421.63 L289.82,443.20 L293.12,499.88 L293.95,512.10 L294.73,521.82 L295.46,528.99 L296.14,533.77 L296.48,535.41 L296.82,536.54 L297.16,537.15 L297.45,537.24 L297.79,536.86 L298.18,535.79 L298.56,534.04 L298.95,531.62 L299.73,524.93 L300.51,515.97 L301.97,494.40 L305.27,437.72 L306.09,425.50 L306.87,415.78 L307.60,408.61 L308.28,403.83 L308.62,402.19 L308.96,401.06 L309.30,400.46 L309.59,400.36 L309.93,400.74 L310.32,401.83 L310.71,403.60 L311.10,406.03 L311.88,412.78 L312.65,421.82 L314.11,443.59 L317.41,500.77 L318.24,513.10 L319.02,522.90 L319.75,530.14 L320.43,534.96 L320.77,536.62 L321.11,537.76 L321.45,538.37 L321.74,538.46 L322.08,538.08 L322.47,537.00 L322.85,535.23 L323.24,532.80 L324.02,526.04 L324.80,517.01 L326.26,495.24 L329.56,438.06 L330.38,425.72 L331.11,416.48 L331.84,409.10 L332.52,404.14 L333.20,401.20 L333.54,400.51 L333.83,400.35 L334.17,400.66 L334.56,401.65 L334.95,403.34 L335.34,405.69 L336.12,412.29 L336.94,421.82 L338.40,443.59 L341.70,500.77 L342.53,513.10 L343.31,522.90 L344.04,530.14 L344.72,534.96 L345.06,536.62 L345.40,537.76 L345.74,538.37 L346.03,538.46 L346.37,538.08 L346.76,537.00 L347.14,535.23 L347.53,532.80 L348.31,526.04 L349.09,517.01 L350.55,495.24 L353.85,438.06 L354.67,425.72 L355.40,416.48 L356.13,409.10 L356.81,404.14 L357.49,401.20 L357.83,400.51 L358.12,400.35 L358.46,400.66 L358.85,401.65 L359.24,403.34 L359.63,405.69 L360.41,412.29 L361.23,421.82 L362.69,443.59 L365.99,500.77 L366.82,513.10 L367.60,522.90 L368.33,530.14 L369.01,534.96 L369.35,536.62 L369.69,537.76 L370.03,538.37 L370.32,538.46 L370.66,538.08 L371.05,537.00 L371.43,535.23 L371.82,532.80 L372.60,526.04 L373.38,517.01 L374.84,495.24 L378.14,438.06 L378.96,425.72 L379.69,416.48 L380.42,409.10 L381.10,404.14 L381.78,401.20 L382.12,400.51 L382.41,400.35 L382.75,400.66 L383.14,401.65 L383.53,403.34 L383.92,405.69 L384.70,412.29 L385.52,421.82 L386.98,443.59 L390.28,500.77 L391.11,513.10 L391.89,522.90 L392.62,530.14 L393.30,534.96 L393.64,536.62 L393.98,537.76 L394.32,538.37 L394.61,538.46 L394.95,538.08 L395.34,537.00 L395.72,535.23 L396.11,532.80 L396.89,526.04 L397.67,517.01 L399.13,495.24 L402.43,438.06 L403.25,425.72 L403.98,416.48 L404.71,409.10 L405.39,404.14 L406.07,401.20 L406.41,400.51 L406.70,400.35 L407.04,400.66 L407.43,401.65 L407.82,403.34 L408.21,405.69 L408.99,412.29 L409.81,421.82 L411.27,443.59 L414.57,500.77 L415.40,513.10 L416.18,522.90 L416.91,530.14 L417.59,534.96 L417.93,536.62 L418.27,537.76 L418.61,538.37 L418.90,538.46 L419.24,538.08 L419.63,537.00 L420.01,535.24 L420.40,532.81 L421.18,526.07 L421.96,517.06 L423.42,495.35 L426.72,438.31 L427.54,426.01 L428.27,416.78 L429.00,409.43 L429.68,404.48 L430.36,401.55 L430.70,400.86 L430.99,400.70 L431.33,401.01 L431.72,402.03 L432.11,403.74 L432.50,406.14 L433.28,412.87 L434.10,422.58 L435.56,444.75 L438.86,503.02 L439.69,515.59 L440.47,525.58 L441.20,532.95 L441.88,537.86 L442.22,539.55 L442.56,540.71 L442.90,541.33 L443.19,541.43 L443.53,541.01 L443.87,540.01 L444.55,536.28 L445.28,529.86 L446.01,521.16 L447.51,497.34 L450.47,440.54 L451.79,418.03 L452.47,408.35 L453.15,400.43 L453.78,394.86 L454.41,391.18 L454.80,389.89 L455.19,389.36 L455.38,389.38 L455.58,389.58 L456.01,390.64 L456.40,392.31 L456.84,394.98 L457.66,402.19 L458.49,411.92 L459.41,425.25 L462.81,483.52 L464.32,505.74 L465.15,515.06 L465.92,521.45 L466.31,523.71 L466.70,525.29 L467.09,526.20 L467.43,526.43 L467.77,526.12 L468.16,525.13 L468.55,523.46 L468.93,521.12 L469.71,514.56 L470.54,505.09 L472.00,483.46 L475.30,426.64 L476.12,414.39 L476.90,404.65 L477.58,397.87 L478.26,392.94 L478.94,390.02 L479.28,389.34 L479.57,389.17 L479.91,389.47 L480.25,390.29 L480.98,393.77 L481.71,399.49 L482.44,407.25 L483.95,428.46 L486.91,479.08 L488.17,498.45 L488.85,507.18 L489.53,514.36 L490.16,519.44 L490.80,522.86 L491.18,524.09 L491.57,524.65 L491.77,524.67 L491.96,524.53 L492.40,523.65 L492.79,522.20 L493.22,519.85 L494.10,512.97 L494.93,504.09 L495.85,491.94 L499.30,438.06 L500.80,417.96 L501.63,409.59 L502.41,403.90 L502.80,401.92 L503.18,400.55 L503.57,399.80 L503.77,399.66 L503.96,399.68 L504.30,400.13 L504.69,401.27 L505.47,405.54 L506.24,412.28 L507.02,421.22 L508.48,442.64 L511.73,497.66 L512.56,509.69 L513.29,518.72 L513.97,525.50 L514.65,530.48 L515.28,533.34 L515.62,534.16 L515.91,534.45 L516.11,534.43 L516.30,534.24 L516.69,533.35 L517.08,531.80 L517.47,529.61 L518.24,523.36 L519.07,514.27 L520.58,492.59 L523.98,435.73 L524.85,423.35 L525.63,414.22 L526.41,407.24 L527.18,402.70 L527.57,401.39 L527.96,400.76 L528.15,400.70 L528.35,400.81 L528.69,401.42 L529.03,402.55 L529.37,404.20 L530.05,409.01 L530.78,416.23 L531.51,425.34 L532.87,446.25 L535.93,499.31 L537.48,521.26 L538.21,528.88 L538.89,534.11 L539.57,537.34 L539.91,538.17 L540.25,538.48 L540.59,538.25 L540.93,537.49 L541.27,536.20 L541.66,534.11 L542.39,528.44 L543.12,520.69 L544.67,498.53 L547.63,447.07 L548.95,426.68 L549.63,417.91 L550.31,410.74 L550.99,405.38 L551.62,402.17 L552.06,401.00 L552.25,400.76 L552.44,400.70 L552.64,400.81 L552.83,401.09 L553.22,402.18 L553.61,403.94 L554.05,406.72 L554.87,414.13 L555.70,424.06 L556.57,436.83 L559.97,495.47 L561.48,517.83 L562.31,527.21 L563.08,533.65 L563.47,535.91 L563.86,537.51 L564.25,538.42 L564.59,538.65 L564.93,538.35 L565.32,537.35 L565.71,535.67 L566.09,533.32 L566.87,526.72 L567.70,517.21 L569.16,495.47 L572.51,437.59 L573.33,425.37 L574.11,415.71 L574.89,408.22 L575.62,403.44 L576.01,401.84 L576.35,401.00 L576.69,400.70 L577.03,400.93 L577.37,401.68 L577.75,403.19 L578.48,407.79 L579.21,414.57 L579.99,423.94 L581.40,445.27 L584.56,499.71 L585.38,512.07 L586.11,521.37 L586.84,528.83 L587.52,533.90 L588.20,536.97 L588.54,537.72 L588.88,537.95 L589.22,537.65 L589.61,536.66 L590.00,534.99 L590.38,532.66 L591.16,526.12 L591.99,516.67 L593.45,495.10 L596.75,438.42 L597.57,426.20 L598.35,416.48 L599.03,409.72 L599.71,404.81 L600.39,401.89 L600.73,401.21 L601.02,401.05 L601.36,401.35 L601.75,402.34 L602.14,404.01 L602.53,406.34 L603.31,412.88 L604.13,422.33 L605.59,443.90 L608.89,500.58 L609.72,512.80 L610.50,522.52 L611.18,529.28 L611.86,534.19 L612.54,537.11 L612.88,537.79 L613.17,537.95 L613.51,537.65 L613.90,536.66 L614.29,534.98 L614.67,532.65 L615.45,526.09 L616.28,516.62 L617.74,494.99 L621.04,438.17 L621.86,425.91 L622.64,416.17 L623.32,409.40 L624.00,404.47 L624.68,401.54 L625.02,400.86 L625.31,400.70 L625.65,401.00 L626.04,402.00 L626.43,403.68 L626.82,406.02 L627.60,412.61 L628.42,422.11 L629.88,443.83 L633.18,500.86 L634.01,513.16 L634.79,522.94 L635.47,529.75 L636.15,534.69 L636.83,537.63 L637.17,538.31 L637.46,538.48 L637.80,538.17 L638.19,537.17 L638.58,535.49 L638.96,533.15 L639.74,526.56 L640.57,517.06 L642.03,495.35 L645.33,438.31 L646.15,426.01 L646.93,416.23 L647.61,409.43 L648.29,404.48 L648.97,401.55 L649.31,400.86 L649.60,400.70 L649.94,401.00 L650.33,402.00 L650.72,403.68 L651.11,406.02 L651.89,412.61 L652.71,422.11 L654.17,443.83 L657.47,500.86 L658.30,513.16 L659.08,522.94 L659.76,529.75 L660.44,534.69 L661.12,537.63 L661.46,538.31 L661.75,538.48 L662.09,538.17 L662.48,537.17 L662.87,535.49 L663.25,533.15 L664.03,526.56 L664.86,517.06 L666.32,495.35 L669.62,438.31 L670.44,426.01 L671.22,416.23 L671.90,409.43 L672.58,404.48 L673.26,401.55 L673.60,400.86 L673.89,400.70 L674.23,401.01 L674.62,402.01 L675.01,403.70 L675.40,406.06 L676.18,412.69 L677.00,422.25 L678.46,444.10 L681.76,501.50 L682.59,513.88 L683.37,523.72 L684.05,530.56 L684.73,535.54 L685.41,538.50 L685.75,539.18 L686.04,539.35 L686.38,539.03 L686.72,538.15 L687.45,534.43 L688.18,528.32 L688.91,520.04 L690.41,497.37 L693.37,443.31 L694.69,421.89 L695.37,412.67 L696.05,405.13 L696.68,399.84 L697.31,396.33 L697.70,395.10 L698.09,394.60 L698.28,394.62 L698.48,394.81 L698.91,395.85 L699.30,397.48 L699.74,400.08 L700.56,407.10 L701.39,416.58 L702.31,429.57 L705.71,486.36 L707.22,508.01 L708.05,517.09 L708.82,523.33 L709.21,525.52 L709.60,527.07 L709.99,527.95 L710.33,528.17 L710.67,527.88 L711.06,526.91 L711.45,525.28 L711.83,523.01 L712.61,516.62 L713.44,507.41 L714.90,486.36 L718.20,431.06 L719.02,419.13 L719.80,409.65 L720.48,403.05 L721.16,398.26 L721.84,395.41 L722.18,394.75 L722.47,394.59 L722.81,394.91 L723.20,395.97 L723.59,397.76 L723.98,400.26 L724.76,407.28 L725.58,417.41 L727.04,440.56 L730.34,501.35 L731.17,514.47 L731.95,524.89 L732.63,532.14 L733.31,537.41 L733.99,540.54 L734.33,541.27 L734.62,541.44 L734.96,541.10 L735.30,540.15 L736.03,536.14 L736.76,529.54 L737.49,520.58 L739.04,495.03 L742.25,430.48 L743.61,406.28 L744.33,395.70 L745.06,387.27 L745.79,381.25 L746.13,379.34 L746.47,378.01 L746.76,377.35 L747.06,377.12 L747.69,377.28 L749.19,378.29 L749.92,378.52 L789.32,378.52" stroke="#0000ff"/>
</g>
<text class="tk" x="108.75" y="650.4" text-anchor="middle">0</text>
<text class="tk" x="231.20" y="650.4" text-anchor="middle">50</text>
<text class="tk" x="353.80" y="650.4" text-anchor="middle">100</text>
<text class="tk" x="477.40" y="650.4" text-anchor="middle">150</text>
<text class="tk" x="599.00" y="650.4" text-anchor="middle">200</text>
<text class="tk" x="721.90" y="650.4" text-anchor="middle">250</text>
<text class="tk" x="843.70" y="650.4" text-anchor="middle">300</text>
<text class="tk" x="98.9" y="61.80" text-anchor="end">60</text>
<text class="tk" x="98.9" y="131.70" text-anchor="end">40</text>
<text class="tk" x="98.9" y="201.60" text-anchor="end">20</text>
<text class="tk" x="98.9" y="271.50" text-anchor="end">0</text>
<text class="tk" x="98.9" y="341.40" text-anchor="end">-20</text>
<text class="tk" x="98.9" y="411.30" text-anchor="end">-40</text>
<text class="tk" x="98.9" y="481.20" text-anchor="end">-60</text>
<text class="tk" x="98.9" y="551.10" text-anchor="end">-80</text>
<text class="tk" x="98.9" y="621.00" text-anchor="end">-100</text>
<text class="lb" x="469.9" y="691.2" text-anchor="middle">Time[s]</text>
<text class="lb" transform="translate(24.5,329.0) rotate(-90)" text-anchor="middle">Joint position(°)</text>
<text class="pn" x="-0.9" y="26.75" stroke="#000" stroke-width="0.4">A</text>
<rect x="594.3" y="230.2" width="237" height="82.2" fill="#ffffff" stroke="#3a3a3a" stroke-width="1.1"/>
<g class="cv" stroke-width="3.8">
<path d="M600.7,252.1 L668.9,252.1" stroke="#77ac30" stroke-dasharray="11.5 3 5.5 3"/>
<path d="M600.7,290.1 L668.9,290.1" stroke="#ff00ff" stroke-dasharray="11.5 3 5.5 3"/>
<path d="M725.9,252.1 L792.7,252.1" stroke="#ff0000"/>
<path d="M725.9,290.1 L792.7,290.1" stroke="#0000ff"/>
</g>
<text x="673.50" y="259.40"><tspan class="mi" font-size="29px">q</tspan><tspan dy="5.2" font-size="21px"><tspan class="mi">d</tspan><tspan class="mr">,1</tspan></tspan></text>
<text x="673.50" y="297.40"><tspan class="mi" font-size="29px">q</tspan><tspan dy="5.2" font-size="21px"><tspan class="mi">d</tspan><tspan class="mr">,2</tspan></tspan></text>
<text x="798.00" y="259.40"><tspan class="mi" font-size="29px">q</tspan><tspan dy="5.2" font-size="21px"><tspan class="mr">1</tspan></tspan></text>
<text x="798.00" y="297.40"><tspan class="mi" font-size="29px">q</tspan><tspan dy="5.2" font-size="21px"><tspan class="mr">2</tspan></tspan></text>
<g stroke="#e2e2e2" stroke-width="1" fill="none"><line x1="1135.13" y1="53.90" x2="1135.13" y2="596.00"/><line x1="1256.57" y1="53.90" x2="1256.57" y2="596.00"/><line x1="1378.00" y1="53.90" x2="1378.00" y2="596.00"/><line x1="1499.43" y1="53.90" x2="1499.43" y2="596.00"/><line x1="1620.87" y1="53.90" x2="1620.87" y2="596.00"/><line x1="1013.70" y1="162.32" x2="1742.30" y2="162.32"/><line x1="1013.70" y1="270.74" x2="1742.30" y2="270.74"/><line x1="1013.70" y1="379.16" x2="1742.30" y2="379.16"/><line x1="1013.70" y1="487.58" x2="1742.30" y2="487.58"/></g>
<g stroke="#4d4d4d" stroke-width="1.15" fill="none"><line x1="1135.13" y1="596.00" x2="1135.13" y2="588.70"/><line x1="1135.13" y1="53.90" x2="1135.13" y2="61.20"/><line x1="1256.57" y1="596.00" x2="1256.57" y2="588.70"/><line x1="1256.57" y1="53.90" x2="1256.57" y2="61.20"/><line x1="1378.00" y1="596.00" x2="1378.00" y2="588.70"/><line x1="1378.00" y1="53.90" x2="1378.00" y2="61.20"/><line x1="1499.43" y1="596.00" x2="1499.43" y2="588.70"/><line x1="1499.43" y1="53.90" x2="1499.43" y2="61.20"/><line x1="1620.87" y1="596.00" x2="1620.87" y2="588.70"/><line x1="1620.87" y1="53.90" x2="1620.87" y2="61.20"/><line x1="1013.70" y1="162.32" x2="1021.00" y2="162.32"/><line x1="1742.30" y1="162.32" x2="1735.00" y2="162.32"/><line x1="1013.70" y1="270.74" x2="1021.00" y2="270.74"/><line x1="1742.30" y1="270.74" x2="1735.00" y2="270.74"/><line x1="1013.70" y1="379.16" x2="1021.00" y2="379.16"/><line x1="1742.30" y1="379.16" x2="1735.00" y2="379.16"/><line x1="1013.70" y1="487.58" x2="1021.00" y2="487.58"/><line x1="1742.30" y1="487.58" x2="1735.00" y2="487.58"/><rect x="1013.70" y="53.90" width="728.60" height="542.10"/></g>
<g class="cv" stroke-width="3.95">
<path d="M1013.70,379.16 L1013.85,379.28 L1014.04,379.79 L1014.43,382.04 L1015.16,390.58 L1015.89,404.48 L1016.66,424.65 L1018.22,478.14 L1021.08,595.92 L1022.39,548.13 L1023.51,516.28 L1024.05,504.84 L1024.58,496.18 L1025.07,490.86 L1025.60,487.80 L1025.89,566.20 L1026.09,596.00 L1026.52,571.02 L1026.91,564.90 L1027.35,560.50 L1029.53,546.49 L1031.14,537.84 L1034.15,523.59 L1034.88,521.33 L1035.22,520.75 L1035.56,520.54 L1035.75,520.83 L1036.00,521.98 L1036.48,526.43 L1037.06,534.59 L1037.79,547.06 L1038.08,555.74 L1038.86,587.38 L1039.10,593.85 L1039.30,595.97 L1039.69,591.38 L1040.27,586.09 L1042.07,572.78 L1044.50,557.44 L1047.56,540.08 L1048.77,554.86 L1049.94,571.54 L1050.71,585.27 L1051.10,596.00 L1051.39,592.75 L1051.98,588.17 L1053.77,576.87 L1056.20,563.91 L1059.21,549.49 L1060.43,561.78 L1061.59,575.65 L1062.37,587.07 L1062.76,596.00 L1063.05,593.21 L1063.63,589.28 L1065.48,579.34 L1068.00,567.82 L1071.11,555.11 L1072.33,565.92 L1073.49,578.11 L1074.27,588.15 L1074.66,596.00 L1074.95,593.76 L1075.58,590.38 L1077.48,582.26 L1080.05,572.91 L1083.26,562.47 L1084.47,571.33 L1085.64,581.33 L1086.41,589.57 L1086.80,596.00 L1087.09,593.80 L1087.68,590.70 L1089.52,582.86 L1092.05,573.79 L1095.16,563.77 L1096.37,572.29 L1097.54,581.90 L1098.31,589.81 L1098.70,596.00 L1099.04,593.88 L1099.67,591.10 L1101.62,584.20 L1104.24,576.28 L1107.54,567.33 L1108.76,574.91 L1109.92,583.46 L1110.70,590.50 L1111.09,596.00 L1111.38,594.15 L1112.01,591.35 L1113.91,584.66 L1116.48,576.93 L1119.69,568.31 L1120.90,575.63 L1122.07,583.89 L1122.84,590.69 L1123.23,596.00 L1123.52,594.41 L1124.16,592.01 L1126.05,586.25 L1128.62,579.62 L1131.83,572.20 L1133.04,578.49 L1134.21,585.59 L1134.99,591.43 L1135.38,596.00 L1135.42,591.58 L1135.67,588.44 L1136.15,585.86 L1136.98,583.39 L1138.19,581.07 L1139.80,578.91 L1141.84,576.85 L1144.36,574.86 L1145.82,580.00 L1146.79,585.07 L1147.33,589.97 L1147.52,596.00 L1147.57,592.81 L1147.81,590.54 L1148.30,588.67 L1149.07,586.98 L1150.24,585.33 L1151.84,583.74 L1153.83,582.26 L1156.31,580.83 L1157.04,582.51 L1157.72,584.41 L1158.69,588.08 L1159.23,591.63 L1159.42,596.00 L1159.47,593.35 L1159.71,591.46 L1160.20,589.91 L1161.02,588.44 L1162.24,587.04 L1163.84,585.75 L1165.88,584.51 L1168.41,583.31 L1169.86,586.40 L1170.83,589.44 L1171.37,592.38 L1171.56,596.00 L1171.61,593.83 L1171.85,592.28 L1172.34,591.01 L1173.17,589.79 L1174.38,588.65 L1175.98,587.59 L1178.02,586.57 L1180.55,585.59 L1182.01,588.12 L1182.98,590.62 L1183.51,593.03 L1183.71,596.00 L1183.76,593.96 L1184.00,592.51 L1184.48,591.32 L1185.31,590.18 L1186.52,589.11 L1188.13,588.11 L1190.17,587.16 L1192.69,586.24 L1194.15,588.61 L1195.12,590.96 L1195.66,593.22 L1195.85,596.00 L1195.90,594.44 L1196.14,593.33 L1196.63,592.41 L1197.45,591.54 L1198.67,590.72 L1200.27,589.95 L1202.31,589.22 L1204.84,588.52 L1206.29,590.34 L1207.26,592.13 L1207.80,593.87 L1207.99,596.00 L1208.04,594.57 L1208.28,593.56 L1208.77,592.72 L1209.60,591.93 L1210.81,591.18 L1212.41,590.48 L1214.45,589.81 L1216.98,589.17 L1218.44,590.83 L1219.41,592.47 L1219.94,594.05 L1220.14,596.00 L1220.19,594.87 L1220.43,594.06 L1220.91,593.40 L1221.74,592.77 L1222.95,592.17 L1224.56,591.62 L1226.60,591.09 L1229.12,590.58 L1230.58,591.90 L1231.55,593.20 L1232.09,594.45 L1232.28,596.00 L1232.33,595.09 L1232.57,594.45 L1233.06,593.92 L1233.88,593.41 L1235.10,592.94 L1236.70,592.49 L1241.27,591.66 L1242.72,592.72 L1243.69,593.76 L1244.23,594.76 L1244.42,596.00 L1244.47,595.32 L1244.71,594.84 L1245.20,594.44 L1246.03,594.06 L1248.84,593.37 L1253.41,592.75 L1254.87,593.54 L1255.84,594.32 L1256.37,595.07 L1256.57,596.00 L1256.62,595.39 L1256.86,594.95 L1257.34,594.60 L1258.17,594.25 L1260.99,593.63 L1265.55,593.07 L1267.01,593.78 L1267.98,594.49 L1268.52,595.17 L1268.71,596.00 L1268.76,595.55 L1269.00,595.22 L1269.49,594.96 L1270.31,594.71 L1273.13,594.25 L1277.70,593.83 L1279.15,594.36 L1280.12,594.88 L1280.66,595.38 L1280.85,596.00 L1280.90,595.62 L1281.14,595.34 L1282.46,594.90 L1285.27,594.51 L1289.84,594.16 L1291.30,594.60 L1292.27,595.05 L1292.80,595.47 L1293.00,596.00 L1293.05,595.68 L1293.29,595.46 L1294.60,595.10 L1297.42,594.77 L1301.98,594.48 L1303.44,594.85 L1304.41,595.22 L1304.95,595.57 L1305.14,596.00 L1305.19,595.73 L1305.43,595.53 L1306.74,595.22 L1309.56,594.95 L1314.13,594.70 L1316.55,595.33 L1317.09,595.63 L1317.28,596.00 L1317.33,595.77 L1317.57,595.61 L1318.89,595.35 L1321.70,595.12 L1326.27,594.92 L1328.65,595.42 L1329.18,595.66 L1329.43,596.00 L1329.52,596.00 L1330.06,595.89 L1330.69,595.62 L1331.90,594.88 L1332.34,594.52 L1333.26,593.33 L1335.16,590.17 L1335.94,589.03 L1336.71,588.25 L1337.10,588.04 L1337.44,587.98 L1337.83,588.25 L1338.27,589.09 L1340.11,594.57 L1340.50,595.25 L1340.89,595.46 L1341.23,595.31 L1341.57,594.97 L1342.30,593.69 L1344.73,587.30 L1348.13,579.80 L1349.15,578.21 L1349.63,577.80 L1350.07,577.68 L1350.31,577.77 L1350.60,578.09 L1351.19,579.35 L1351.87,581.59 L1352.74,585.16 L1353.18,587.82 L1354.20,596.00 L1355.27,589.64 L1357.60,577.34 L1360.08,563.39 L1361.58,556.09 L1363.87,548.10 L1365.27,543.87 L1365.91,542.40 L1366.49,541.39 L1367.02,540.80 L1367.56,540.60 L1368.04,540.69 L1368.53,540.96 L1369.65,542.09 L1372.41,546.24 L1373.97,548.34 L1376.40,552.15 L1377.17,553.12 L1377.90,553.76 L1378.53,554.03 L1379.41,554.01 L1383.63,553.28 L1385.24,553.18 L1386.31,553.47 L1388.64,554.60 L1389.61,554.80 L1390.05,554.74 L1390.53,554.49 L1391.60,553.42 L1392.57,551.99 L1395.53,547.00 L1398.74,542.96 L1399.71,541.87 L1400.73,541.04 L1401.66,540.71 L1402.00,540.73 L1402.29,540.86 L1402.97,541.55 L1403.79,542.99 L1404.18,545.47 L1404.67,551.45 L1406.12,573.79 L1407.68,590.30 L1408.16,594.01 L1408.60,596.00 L1409.28,594.25 L1409.91,592.98 L1410.50,592.23 L1411.03,591.99 L1411.32,592.19 L1411.66,592.83 L1412.73,596.00 L1413.80,592.46 L1416.28,582.75 L1419.00,573.67 L1420.21,570.02 L1421.18,567.98 L1421.57,567.49 L1421.96,567.21 L1422.25,567.17 L1422.49,567.40 L1422.93,568.47 L1424.05,572.35 L1424.39,573.06 L1424.68,573.23 L1425.07,572.89 L1425.46,572.13 L1427.11,567.50 L1427.45,566.94 L1427.79,566.73 L1427.93,566.84 L1428.13,567.30 L1428.52,569.12 L1430.17,582.24 L1430.56,584.52 L1430.90,585.63 L1431.67,586.58 L1432.40,587.26 L1433.08,587.69 L1433.76,587.87 L1434.54,587.80 L1435.37,587.58 L1438.43,586.18 L1439.69,585.77 L1440.90,585.75 L1442.07,586.24 L1443.23,587.20 L1444.40,588.57 L1444.79,589.86 L1445.76,594.47 L1446.00,595.19 L1446.25,595.46 L1446.54,595.25 L1446.88,594.56 L1447.99,591.07 L1449.74,586.60 L1450.33,585.53 L1450.62,585.24 L1450.86,585.16 L1451.35,585.28 L1451.88,585.63 L1454.16,588.13 L1457.22,590.52 L1458.73,591.48 L1460.04,591.94 L1461.25,591.97 L1465.63,591.67 L1466.50,591.86 L1468.49,592.62 L1469.42,592.73 L1469.76,592.51 L1470.10,592.06 L1471.60,589.31 L1471.99,588.92 L1472.28,588.86 L1472.48,589.29 L1472.67,590.15 L1473.50,595.06 L1473.69,595.67 L1473.84,595.78 L1474.08,595.67 L1474.95,594.90 L1477.62,594.32 L1479.57,593.78 L1480.83,593.32 L1481.95,592.75 L1482.58,592.00 L1484.13,589.10 L1484.52,588.66 L1484.86,588.52 L1485.06,588.82 L1485.25,589.62 L1486.12,595.03 L1486.32,595.66 L1486.46,595.78 L1486.76,595.63 L1487.53,594.92 L1490.16,594.34 L1491.22,594.02 L1492.58,593.47 L1493.80,592.78 L1494.48,592.01 L1495.98,589.43 L1496.37,589.00 L1496.76,588.84 L1496.96,589.13 L1497.15,589.90 L1498.02,595.06 L1498.22,595.67 L1498.36,595.78 L1498.66,595.63 L1499.43,594.92 L1502.10,594.33 L1503.42,593.94 L1504.82,593.39 L1505.99,592.75 L1506.62,592.03 L1508.13,589.43 L1508.52,589.00 L1508.91,588.84 L1509.10,589.13 L1509.29,589.90 L1510.17,595.06 L1510.36,595.67 L1510.51,595.78 L1510.80,595.63 L1511.58,594.92 L1515.22,594.04 L1516.58,593.49 L1517.79,592.81 L1518.47,592.11 L1520.03,589.61 L1520.42,589.21 L1520.81,589.06 L1520.95,589.22 L1521.15,589.86 L1521.97,594.64 L1522.17,595.43 L1522.36,595.78 L1522.65,595.67 L1523.48,594.92 L1526.20,594.32 L1527.65,593.89 L1529.06,593.37 L1530.28,592.75 L1530.91,592.10 L1532.41,589.79 L1532.80,589.42 L1533.19,589.28 L1533.34,589.43 L1533.53,590.05 L1534.36,594.68 L1534.55,595.44 L1534.75,595.78 L1535.04,595.67 L1535.86,594.92 L1539.31,594.10 L1540.72,593.59 L1542.03,592.97 L1542.91,592.35 L1544.56,590.42 L1544.95,590.14 L1545.34,590.04 L1545.48,590.17 L1545.68,590.72 L1546.50,594.81 L1546.70,595.48 L1546.89,595.78 L1547.18,595.67 L1548.01,594.92 L1551.12,594.21 L1553.69,593.19 L1554.90,592.53 L1556.70,590.97 L1557.09,590.76 L1557.48,590.69 L1557.62,590.81 L1557.82,591.29 L1558.64,594.92 L1558.84,595.52 L1559.03,595.78 L1559.32,595.67 L1560.15,594.92 L1562.87,594.32 L1564.13,593.90 L1566.85,592.68 L1568.80,591.45 L1569.57,591.23 L1569.77,591.34 L1569.96,591.77 L1570.79,595.01 L1570.98,595.55 L1571.18,595.78 L1571.47,595.67 L1572.24,594.94 L1573.60,594.53 L1576.71,594.09 L1579.87,593.85 L1581.09,593.86 L1582.88,594.63 L1584.24,594.77 L1588.37,594.91 L1597.41,594.91 L1597.94,594.51 L1598.57,593.46 L1600.71,588.23 L1601.78,584.66 L1604.55,573.97 L1605.32,571.59 L1606.05,569.98 L1607.22,568.09 L1608.29,566.58 L1609.31,565.39 L1610.28,564.53 L1611.10,564.04 L1613.29,563.19 L1614.70,562.84 L1616.01,562.72 L1617.13,562.80 L1618.39,563.04 L1619.94,563.49 L1620.53,563.83 L1621.11,564.41 L1621.74,565.24 L1624.66,569.78 L1625.43,570.61 L1626.16,571.02 L1626.84,571.00 L1627.62,570.53 L1628.35,569.81 L1630.14,567.71 L1631.12,566.92 L1631.60,566.74 L1631.99,566.76 L1632.33,566.97 L1632.72,567.42 L1633.40,568.67 L1634.22,570.75 L1635.58,574.77 L1636.22,577.11 L1637.58,583.89 L1639.57,596.00 L1641.17,583.94 L1642.29,577.73 L1642.77,575.40 L1643.16,574.02 L1643.55,573.30 L1643.70,573.23 L1643.89,573.34 L1644.28,574.11 L1644.76,575.90 L1646.42,584.52 L1647.29,589.91 L1648.07,596.00 L1649.04,584.83 L1651.32,551.37 L1654.87,507.53 L1655.40,519.39 L1655.94,528.57 L1656.47,534.84 L1656.96,537.91 L1657.20,538.49 L1657.30,538.54 L1657.44,538.42 L1657.69,537.72 L1657.98,536.03 L1658.46,531.20 L1659.00,523.06 L1660.07,498.57 L1661.18,463.05 L1664.92,312.26 L1666.38,261.64 L1667.16,240.83 L1667.89,226.25 L1668.61,216.97 L1668.95,214.56 L1669.29,213.39 L1669.49,213.29 L1669.68,213.60 L1670.07,215.44 L1670.46,218.91 L1670.85,223.96 L1671.67,239.70 L1672.50,261.64 L1674.01,314.14 L1677.45,454.26 L1678.33,484.22 L1679.15,507.48 L1679.98,524.75 L1680.76,534.84 L1681.19,537.72 L1681.39,538.33 L1681.58,538.54 L1681.78,538.33 L1681.97,537.72 L1682.36,535.26 L1682.99,527.86 L1683.67,515.37 L1684.35,498.57 L1685.03,477.99 L1686.34,430.03 L1689.36,306.66 L1690.86,255.97 L1691.59,237.51 L1692.32,223.96 L1692.71,218.91 L1693.05,215.79 L1693.39,213.91 L1693.58,213.39 L1693.73,213.28" stroke="#ff0000"/>
<path d="M1013.70,541.79 L1015.64,437.33 L1017.10,374.71 L1017.78,353.10 L1018.46,337.31 L1019.14,327.84 L1019.48,325.57 L1019.63,325.10 L1019.77,324.95 L1019.97,325.22 L1020.16,326.04 L1020.60,329.88 L1021.03,336.42 L1021.47,345.59 L1022.35,371.29 L1023.32,409.97 L1024.63,474.79 L1025.84,596.00 L1026.33,542.99 L1026.57,530.95 L1026.77,531.89 L1026.96,534.40 L1027.83,552.69 L1028.03,555.53 L1028.22,556.91 L1028.42,556.95 L1028.81,556.76 L1029.87,555.72 L1030.36,554.91 L1031.62,552.28 L1032.01,551.75 L1032.35,551.55 L1032.64,551.74 L1032.98,552.58 L1033.66,556.01 L1034.39,561.58 L1035.17,568.94 L1036.19,591.41 L1036.43,594.99 L1036.63,596.00 L1036.82,590.63 L1037.36,584.90 L1038.18,579.29 L1039.25,574.11 L1040.42,570.01 L1041.05,568.31 L1041.68,566.95 L1042.31,565.89 L1042.94,565.15 L1043.57,564.70 L1044.20,564.56 L1044.59,564.72 L1044.93,565.14 L1045.61,566.72 L1046.29,569.34 L1046.97,573.06 L1047.60,577.67 L1048.14,582.78 L1048.53,587.79 L1048.87,594.29 L1049.21,588.42 L1049.84,582.87 L1050.76,577.43 L1051.88,572.78 L1052.46,570.95 L1053.09,569.36 L1053.68,568.23 L1054.31,567.37 L1054.94,566.87 L1055.57,566.73 L1056.06,567.01 L1056.54,567.73 L1057.17,569.33 L1057.80,571.71 L1058.44,574.92 L1059.02,578.75 L1059.55,583.25 L1059.94,587.55 L1060.23,592.31 L1060.33,596.00 L1060.52,592.16 L1061.11,587.77 L1061.98,583.64 L1063.10,579.86 L1064.36,576.76 L1065.67,574.52 L1066.35,573.72 L1067.03,573.15 L1067.71,572.81 L1068.39,572.69 L1068.78,572.80 L1069.12,573.11 L1069.85,574.42 L1070.58,576.66 L1071.26,579.64 L1071.94,583.69 L1072.47,588.03 L1072.81,592.12 L1072.96,596.00 L1073.11,592.52 L1073.59,588.22 L1074.32,584.22 L1075.24,580.61 L1076.26,577.70 L1077.38,575.50 L1077.91,574.77 L1078.50,574.21 L1079.03,573.89 L1079.61,573.77 L1080.05,573.88 L1080.49,574.22 L1081.31,575.50 L1082.14,577.62 L1082.92,580.47 L1083.65,584.03 L1084.28,588.22 L1084.71,592.60 L1084.86,596.00 L1085.05,592.84 L1085.59,589.47 L1086.41,586.17 L1087.43,583.25 L1088.60,580.81 L1089.86,578.99 L1090.49,578.36 L1091.13,577.92 L1091.76,577.66 L1092.39,577.57 L1092.78,577.67 L1093.17,577.96 L1093.89,579.03 L1094.62,580.81 L1095.30,583.17 L1095.98,586.35 L1096.52,589.76 L1096.86,592.96 L1097.00,596.00 L1097.15,593.14 L1097.63,589.60 L1098.36,586.32 L1099.29,583.35 L1100.31,580.96 L1101.37,579.23 L1101.91,578.62 L1102.49,578.15 L1103.03,577.89 L1103.61,577.79 L1104.05,577.86 L1104.48,578.10 L1105.36,579.06 L1106.18,580.59 L1107.01,582.75 L1107.79,585.47 L1108.47,588.63 L1108.95,591.77 L1109.29,595.13 L1109.58,592.46 L1110.17,589.72 L1110.99,587.09 L1112.01,584.70 L1113.13,582.77 L1114.34,581.32 L1115.56,580.46 L1116.14,580.25 L1116.77,580.17 L1117.16,580.24 L1117.50,580.44 L1118.18,581.23 L1118.91,582.66 L1119.59,584.57 L1120.27,587.16 L1120.80,589.88 L1121.19,592.67 L1121.39,595.11 L1121.68,592.23 L1122.12,589.59 L1122.75,586.97 L1123.57,584.47 L1124.45,582.54 L1125.32,581.19 L1126.24,580.35 L1126.68,580.14 L1127.17,580.06 L1127.65,580.14 L1128.09,580.36 L1129.01,581.26 L1129.94,582.79 L1130.81,584.87 L1131.64,587.52 L1132.32,590.47 L1132.75,593.27 L1132.95,596.00 L1133.00,593.39 L1133.24,591.04 L1133.72,588.95 L1134.40,587.21 L1135.38,585.59 L1136.54,584.34 L1137.80,583.58 L1138.44,583.39 L1139.12,583.31 L1139.80,583.38 L1140.43,583.56 L1141.69,584.30 L1142.86,585.52 L1143.83,587.11 L1144.56,588.95 L1145.04,591.04 L1145.29,593.39 L1145.33,596.00 L1145.38,593.74 L1145.63,591.70 L1146.06,590.02 L1146.74,588.47 L1147.67,587.10 L1148.78,586.04 L1150.00,585.39 L1151.26,585.16 L1152.52,585.37 L1153.74,586.01 L1154.85,587.05 L1155.83,588.47 L1156.51,590.02 L1156.94,591.70 L1157.19,593.74 L1157.23,596.00 L1157.28,594.33 L1157.53,592.82 L1158.01,591.48 L1158.69,590.36 L1159.66,589.33 L1160.83,588.53 L1162.09,588.04 L1163.40,587.87 L1164.71,588.03 L1165.98,588.50 L1167.14,589.28 L1168.11,590.30 L1168.84,591.48 L1169.33,592.82 L1169.57,594.33 L1169.62,596.00 L1169.67,594.58 L1169.91,593.29 L1170.35,592.24 L1171.03,591.26 L1171.95,590.40 L1173.07,589.73 L1174.28,589.31 L1175.55,589.17 L1176.81,589.30 L1178.02,589.70 L1179.14,590.36 L1180.11,591.26 L1180.79,592.24 L1181.23,593.29 L1181.47,594.58 L1181.52,596.00 L1181.57,594.82 L1181.81,593.74 L1182.30,592.79 L1182.98,592.00 L1183.95,591.27 L1185.12,590.71 L1186.38,590.36 L1187.64,590.25 L1188.81,590.34 L1189.97,590.63 L1191.04,591.09 L1192.01,591.73 L1192.74,592.44 L1193.28,593.24 L1193.62,594.14 L1193.81,595.22 L1194.05,594.14 L1194.54,593.31 L1195.36,592.52 L1196.48,591.87 L1197.79,591.43 L1199.15,591.24 L1200.56,591.29 L1201.92,591.60 L1203.48,592.33 L1204.11,592.82 L1204.59,593.34 L1204.93,593.88 L1205.18,594.51 L1205.32,596.00 L1205.37,595.22 L1205.61,594.51 L1206.10,593.89 L1206.78,593.37 L1207.75,592.89 L1208.92,592.51 L1210.18,592.28 L1211.49,592.21 L1212.80,592.28 L1214.07,592.50 L1215.23,592.87 L1216.20,593.34 L1216.93,593.89 L1217.42,594.51 L1217.66,595.22 L1217.71,596.00 L1217.76,595.37 L1218.00,594.80 L1218.49,594.30 L1219.17,593.88 L1220.14,593.49 L1221.25,593.21 L1222.52,593.02 L1223.78,592.96 L1225.04,593.02 L1226.31,593.21 L1227.42,593.49 L1228.39,593.88 L1229.07,594.30 L1229.56,594.80 L1229.80,595.37 L1229.85,596.00 L1229.90,595.49 L1230.14,595.02 L1230.63,594.61 L1231.31,594.27 L1232.28,593.95 L1233.45,593.71 L1236.02,593.51 L1238.59,593.70 L1240.73,594.25 L1241.46,594.61 L1241.95,595.02 L1242.19,595.49 L1242.24,596.00 L1242.29,595.61 L1242.53,595.26 L1242.97,594.98 L1243.65,594.71 L1245.64,594.30 L1248.07,594.16 L1250.49,594.30 L1252.49,594.71 L1253.17,594.98 L1253.60,595.26 L1253.85,595.61 L1253.90,596.00 L1253.94,595.69 L1254.19,595.41 L1255.35,594.95 L1257.49,594.61 L1260.06,594.48 L1262.64,594.60 L1264.78,594.94 L1265.99,595.41 L1266.23,595.69 L1266.28,596.00 L1266.33,595.78 L1266.57,595.58 L1267.79,595.25 L1269.97,595.00 L1272.60,594.92 L1275.22,595.00 L1277.40,595.25 L1278.62,595.58 L1278.86,595.78 L1278.91,596.00 L1278.96,595.82 L1279.20,595.66 L1280.37,595.39 L1282.46,595.20 L1284.98,595.13 L1287.51,595.20 L1289.60,595.39 L1290.76,595.66 L1291.01,595.82 L1291.05,596.00 L1291.10,595.84 L1291.35,595.70 L1292.51,595.47 L1294.60,595.30 L1297.13,595.24 L1299.65,595.30 L1301.74,595.47 L1302.91,595.70 L1303.15,595.84 L1303.20,596.00 L1303.25,595.87 L1303.49,595.74 L1304.65,595.55 L1309.27,595.35 L1313.88,595.55 L1315.05,595.74 L1315.29,595.87 L1315.34,596.00 L1315.39,595.89 L1315.63,595.79 L1316.80,595.62 L1321.41,595.46 L1326.03,595.62 L1327.19,595.79 L1327.44,595.89 L1327.48,596.00 L1327.58,595.85 L1327.92,595.75 L1329.62,595.56 L1332.39,595.46 L1335.35,595.49 L1338.32,595.69 L1338.95,595.81 L1339.19,596.00 L1339.97,595.71 L1340.84,594.93 L1343.56,591.91 L1345.84,588.95 L1346.82,587.86 L1347.74,587.14 L1348.61,586.89 L1349.20,587.06 L1349.88,587.60 L1350.60,588.49 L1351.43,589.75 L1352.11,591.66 L1353.23,596.00 L1354.15,591.98 L1356.14,582.01 L1358.57,570.62 L1360.08,564.25 L1360.90,561.57 L1363.14,555.72 L1364.25,553.33 L1365.23,551.87 L1365.86,551.35 L1366.44,551.23 L1367.07,551.48 L1367.80,552.19 L1368.87,553.79 L1371.30,558.20 L1372.90,560.54 L1375.38,564.51 L1376.69,566.25 L1377.81,567.21 L1378.68,567.48 L1379.75,567.28 L1380.77,566.77 L1383.39,565.05 L1384.12,564.73 L1384.75,564.58 L1385.29,564.57 L1385.87,564.71 L1388.30,565.77 L1388.88,565.86 L1389.27,565.80 L1389.80,565.50 L1390.39,564.92 L1391.65,562.92 L1395.87,554.08 L1398.69,547.38 L1399.76,545.06 L1402.14,540.58 L1402.72,539.87 L1403.26,539.62 L1403.40,539.71 L1403.60,540.10 L1403.99,541.62 L1404.86,547.41 L1405.30,553.98 L1406.56,578.54 L1407.78,591.83 L1408.21,594.89 L1408.41,595.66 L1408.60,596.00 L1409.62,595.61 L1410.59,595.46 L1411.56,595.56 L1412.73,596.00 L1412.97,595.79 L1413.31,595.22 L1413.70,594.25 L1415.40,588.95 L1417.64,584.30 L1418.46,582.80 L1419.19,581.76 L1419.87,581.13 L1420.50,580.93 L1421.18,581.10 L1421.91,581.65 L1422.78,582.76 L1423.12,583.51 L1423.71,587.12 L1424.63,596.00 L1425.75,580.57 L1426.38,576.01 L1426.62,574.94 L1426.82,574.64 L1427.01,574.93 L1427.20,575.72 L1428.22,582.73 L1429.24,588.15 L1429.78,590.18 L1430.07,590.71 L1430.60,591.31 L1432.26,592.42 L1432.94,593.04 L1435.32,596.00 L1437.65,592.05 L1438.23,591.42 L1438.72,591.23 L1439.64,591.31 L1440.71,591.58 L1442.46,592.25 L1443.33,592.70 L1444.16,593.29 L1444.98,594.07 L1446.49,596.00 L1446.78,595.31 L1447.51,592.67 L1447.85,591.79 L1448.92,590.89 L1449.40,590.66 L1449.89,590.58 L1450.67,590.69 L1451.59,591.06 L1453.92,592.45 L1458.39,594.89 L1459.41,595.28 L1460.28,595.45 L1462.08,595.31 L1465.04,594.61 L1468.98,593.24 L1470.73,592.51 L1471.80,592.32 L1471.99,592.47 L1472.23,592.89 L1473.25,595.52 L1473.50,595.90 L1473.69,596.00 L1473.93,595.84 L1474.61,594.93 L1477.28,594.70 L1478.35,594.48 L1481.66,593.21 L1483.50,592.29 L1484.38,592.10 L1484.62,592.26 L1484.86,592.71 L1485.93,595.59 L1486.12,595.89 L1486.32,596.00 L1486.56,595.84 L1487.24,594.93 L1489.28,594.69 L1490.45,594.40 L1493.56,593.21 L1495.40,592.29 L1496.28,592.10 L1496.52,592.26 L1496.76,592.71 L1497.83,595.59 L1498.02,595.89 L1498.22,596.00 L1498.46,595.84 L1499.14,594.93 L1501.38,594.70 L1502.49,594.44 L1505.70,593.21 L1507.55,592.29 L1508.42,592.10 L1508.66,592.26 L1508.91,592.71 L1509.97,595.59 L1510.17,595.89 L1510.36,596.00 L1510.61,595.84 L1511.29,594.93 L1513.33,594.69 L1514.49,594.40 L1517.60,593.21 L1519.45,592.29 L1520.32,592.10 L1520.51,592.21 L1520.71,592.50 L1521.78,595.39 L1522.02,595.83 L1522.26,596.00 L1522.51,595.84 L1523.19,594.93 L1525.66,594.70 L1526.73,594.46 L1529.99,593.21 L1531.83,592.29 L1532.71,592.10 L1532.90,592.21 L1533.09,592.50 L1534.16,595.39 L1534.41,595.83 L1534.65,596.00 L1534.89,595.84 L1535.57,594.93 L1537.76,594.71 L1538.63,594.52 L1543.78,592.53 L1544.85,592.31 L1545.09,592.47 L1545.34,592.89 L1546.40,595.62 L1546.60,595.90 L1546.79,596.00 L1547.04,595.84 L1547.52,595.11 L1547.76,594.92 L1550.39,594.61 L1553.84,593.35 L1555.83,592.87 L1556.94,592.75 L1557.14,592.80 L1557.38,593.09 L1558.45,595.49 L1558.69,595.86 L1558.94,596.00 L1559.18,595.84 L1559.66,595.11 L1559.91,594.92 L1562.53,594.61 L1565.98,593.35 L1567.97,592.87 L1569.09,592.75 L1569.28,592.80 L1569.52,593.09 L1570.59,595.49 L1570.84,595.86 L1571.08,596.00 L1571.27,595.89 L1571.81,595.09 L1572.05,594.92 L1581.28,594.92 L1588.47,595.44 L1597.11,595.45 L1597.36,595.25 L1597.60,594.78 L1598.18,592.88 L1602.85,572.99 L1603.57,570.68 L1604.40,568.87 L1605.95,566.15 L1606.63,565.28 L1607.31,564.68 L1608.97,563.82 L1610.52,563.20 L1611.98,562.84 L1613.34,562.72 L1614.26,562.86 L1615.33,563.32 L1617.27,564.59 L1617.90,565.21 L1618.88,566.60 L1621.35,571.03 L1624.17,575.46 L1625.04,576.67 L1625.77,577.34 L1626.16,577.52 L1626.50,577.57 L1626.89,577.47 L1627.28,577.25 L1628.01,576.57 L1629.71,574.57 L1630.58,573.89 L1630.97,573.78 L1631.26,573.81 L1631.89,574.37 L1632.48,575.38 L1633.11,576.83 L1634.37,580.13 L1635.00,582.11 L1636.22,587.00 L1638.11,596.00 L1639.66,586.89 L1640.25,584.24 L1641.32,580.88 L1642.00,579.18 L1642.63,578.25 L1642.92,578.11 L1643.16,578.21 L1643.55,578.94 L1643.99,580.43 L1645.20,586.51 L1645.69,589.87 L1646.37,596.00 L1647.10,588.17 L1647.97,577.03 L1650.20,544.27 L1651.37,523.74 L1654.14,468.82 L1655.60,403.18 L1658.71,233.57 L1660.07,168.48 L1660.79,140.36 L1661.52,118.27 L1662.25,103.01 L1662.59,98.38 L1662.93,95.40 L1663.13,94.44 L1663.32,94.03 L1663.47,94.08 L1663.66,94.63 L1664.05,97.36 L1664.44,102.25 L1665.21,118.27 L1666.04,143.78 L1666.82,174.75 L1667.64,213.63 L1670.85,388.14 L1672.21,453.23 L1672.94,481.35 L1673.67,503.44 L1674.35,517.91 L1674.69,522.77 L1675.03,525.99 L1675.22,527.08 L1675.41,527.63 L1675.51,527.70 L1675.61,527.63 L1675.80,527.08 L1676.19,524.35 L1676.58,519.46 L1677.41,502.17 L1678.23,476.18 L1679.01,444.83 L1679.83,405.64 L1682.89,238.69 L1684.21,174.75 L1684.89,147.30 L1685.57,124.91 L1686.25,108.26 L1686.88,98.38 L1687.27,95.11 L1687.46,94.29 L1687.65,94.02 L1687.80,94.17 L1688.00,94.85 L1688.38,97.86 L1688.77,103.01 L1689.16,110.26 L1689.94,130.75 L1690.72,158.49 L1691.54,194.67 L1693.73,310.86" stroke="#0000ff"/>
</g>
<text class="tk" x="1013.25" y="637.3" text-anchor="middle">0</text>
<text class="tk" x="1135.80" y="637.3" text-anchor="middle">50</text>
<text class="tk" x="1258.40" y="637.3" text-anchor="middle">100</text>
<text class="tk" x="1382.10" y="637.3" text-anchor="middle">150</text>
<text class="tk" x="1503.60" y="637.3" text-anchor="middle">200</text>
<text class="tk" x="1626.40" y="637.3" text-anchor="middle">250</text>
<text class="tk" x="1748.20" y="637.3" text-anchor="middle">300</text>
<text class="tk" x="1002.5" y="65.35" text-anchor="end">50</text>
<text class="tk" x="1002.5" y="173.74" text-anchor="end">40</text>
<text class="tk" x="1002.5" y="282.13" text-anchor="end">30</text>
<text class="tk" x="1002.5" y="390.52" text-anchor="end">20</text>
<text class="tk" x="1002.5" y="498.91" text-anchor="end">10</text>
<text class="tk" x="1002.5" y="607.30" text-anchor="end">0</text>
<text class="lb" x="1374.6" y="677.9" text-anchor="middle">Time[s]</text>
<text class="lb" transform="translate(956.5,327.0) rotate(-90)" text-anchor="middle" letter-spacing="-1.4">|e|(°)</text>
<text class="pn" transform="translate(901.7,26.75) scale(0.94,1)" stroke="#000" stroke-width="0.3">B</text>
<rect x="1601.1" y="66.8" width="129.3" height="82.9" fill="#ffffff" stroke="#3a3a3a" stroke-width="1.1"/>
<g class="cv" stroke-width="4.2">
<path d="M1608.2,89.3 L1674.6,89.3" stroke="#ff0000"/>
<path d="M1608.2,127.2 L1674.6,127.2" stroke="#0000ff"/>
</g>
<text x="1681.00" y="97.20" font-size="34px"><tspan class="mr">|</tspan><tspan class="mi" dx="0.8" font-size="34px">e</tspan><tspan class="mr" dy="6" dx="0" font-size="23px">1</tspan><tspan class="mr" dy="-6" dx="1.6" font-size="34px">|</tspan></text>
<text x="1681.00" y="135.40" font-size="34px"><tspan class="mr">|</tspan><tspan class="mi" dx="0.8" font-size="34px">e</tspan><tspan class="mr" dy="6" dx="0" font-size="23px">2</tspan><tspan class="mr" dy="-6" dx="1.6" font-size="34px">|</tspan></text>
</svg></body></html>
